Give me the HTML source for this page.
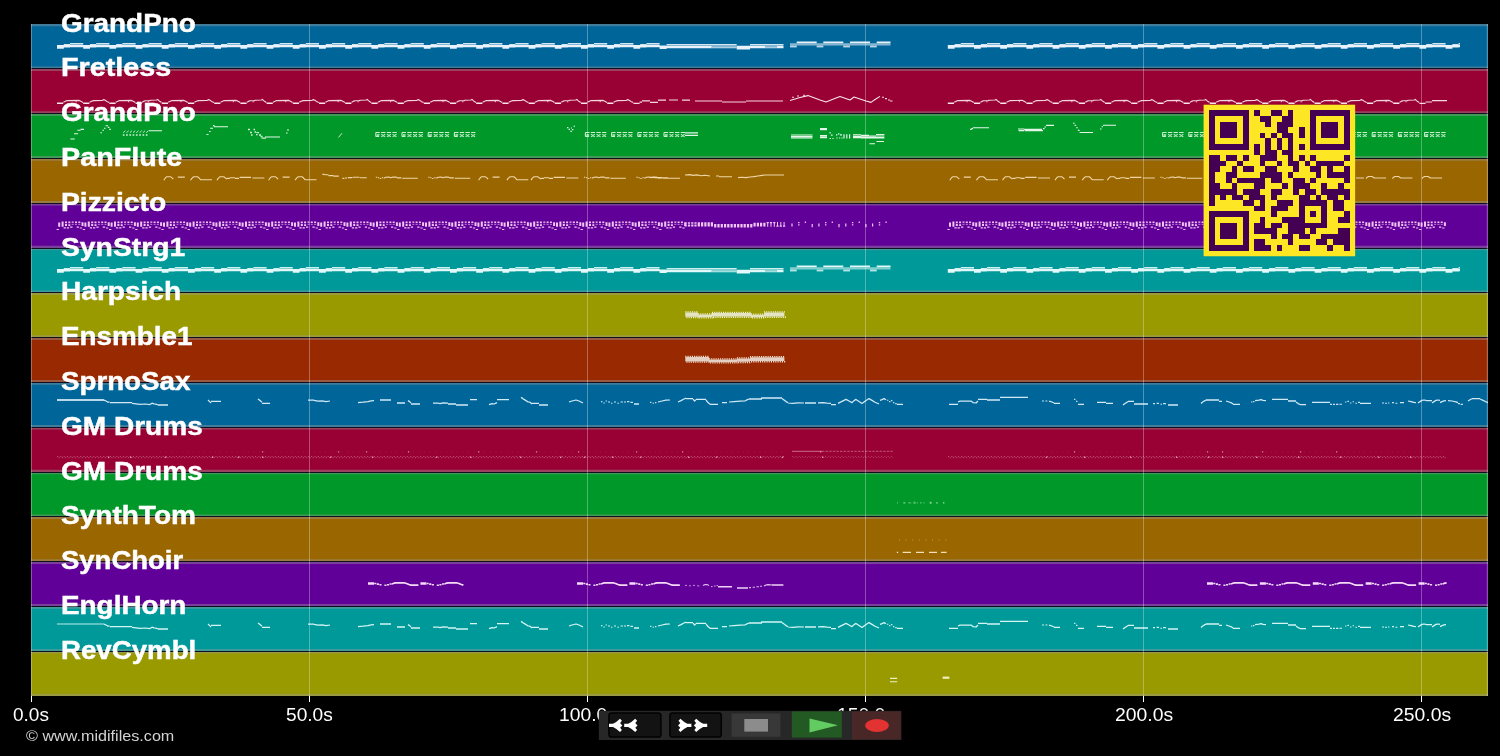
<!DOCTYPE html>
<html><head><meta charset="utf-8"><title>MIDI tracks</title>
<style>
html,body{margin:0;padding:0;background:#000;}
body{width:1500px;height:756px;overflow:hidden;position:relative;font-family:"Liberation Sans",sans-serif;}
#plot{position:absolute;left:0;top:0;}
.lbl{position:absolute;font-weight:bold;-webkit-text-stroke:0.45px #fff;font-size:25.5px;line-height:25.5px;height:25.5px;color:#fff;white-space:nowrap;transform-origin:0 0;will-change:transform;}
.tick{position:absolute;top:705.80px;font-size:18.9px;line-height:18.9px;height:18.9px;color:#fff;white-space:nowrap;transform-origin:0 0;will-change:transform;}
#copy{position:absolute;left:25.57px;top:729.01px;font-size:14.4px;line-height:14.4px;color:#d2d2d2;white-space:nowrap;transform-origin:0 0;transform:scaleX(1.1224);will-change:transform;}
#bar{position:absolute;left:597px;top:709px;}
.btn{position:absolute;top:1.4px;height:25.4px;box-sizing:border-box;}
.btn svg{position:absolute;left:0;top:0;}
</style></head><body>
<svg id="plot" width="1500" height="756" viewBox="0 0 1500 756">
<rect x="31.0" y="24.00" width="1457.0" height="45.30" fill="#00669a"/>
<rect x="31.0" y="68.80" width="1457.0" height="45.30" fill="#990033"/>
<rect x="31.0" y="113.60" width="1457.0" height="45.30" fill="#009929"/>
<rect x="31.0" y="158.40" width="1457.0" height="45.30" fill="#996600"/>
<rect x="31.0" y="203.20" width="1457.0" height="45.30" fill="#610099"/>
<rect x="31.0" y="248.00" width="1457.0" height="45.30" fill="#009999"/>
<rect x="31.0" y="292.80" width="1457.0" height="45.30" fill="#999900"/>
<rect x="31.0" y="337.60" width="1457.0" height="45.30" fill="#992900"/>
<rect x="31.0" y="382.40" width="1457.0" height="45.30" fill="#00669a"/>
<rect x="31.0" y="427.20" width="1457.0" height="45.30" fill="#990033"/>
<rect x="31.0" y="472.00" width="1457.0" height="45.30" fill="#009929"/>
<rect x="31.0" y="516.80" width="1457.0" height="45.30" fill="#996600"/>
<rect x="31.0" y="561.60" width="1457.0" height="45.30" fill="#610099"/>
<rect x="31.0" y="606.40" width="1457.0" height="45.30" fill="#009999"/>
<rect x="31.0" y="651.20" width="1457.0" height="44.80" fill="#999900"/>
<path d="M31.0,24.00h1457.0v2.30h-1457.0zM31.0,66.50h1457.0v4.60h-1457.0zM31.0,111.30h1457.0v4.60h-1457.0zM31.0,156.10h1457.0v4.60h-1457.0zM31.0,200.90h1457.0v4.60h-1457.0zM31.0,245.70h1457.0v4.60h-1457.0zM31.0,290.50h1457.0v4.60h-1457.0zM31.0,335.30h1457.0v4.60h-1457.0zM31.0,380.10h1457.0v4.60h-1457.0zM31.0,424.90h1457.0v4.60h-1457.0zM31.0,469.70h1457.0v4.60h-1457.0zM31.0,514.50h1457.0v4.60h-1457.0zM31.0,559.30h1457.0v4.60h-1457.0zM31.0,604.10h1457.0v4.60h-1457.0zM31.0,648.90h1457.0v4.60h-1457.0zM31.0,693.70h1457.0v2.30h-1457.0z" fill="#9a9a9a" fill-opacity="0.42"/>
<path d="M31.0,68h1457.0v1h-1457.0zM31.0,113h1457.0v1h-1457.0zM31.0,158h1457.0v1h-1457.0zM31.0,203h1457.0v1h-1457.0zM31.0,248h1457.0v1h-1457.0zM31.0,292h1457.0v1h-1457.0zM31.0,337h1457.0v1h-1457.0zM31.0,382h1457.0v1h-1457.0zM31.0,427h1457.0v1h-1457.0zM31.0,472h1457.0v1h-1457.0zM31.0,516h1457.0v1h-1457.0zM31.0,561h1457.0v1h-1457.0zM31.0,606h1457.0v1h-1457.0zM31.0,651h1457.0v1h-1457.0z" fill="#0a0a1c" fill-opacity="0.96"/>
<rect x="1486.8" y="24.0" width="1.2" height="672.0" fill="#fff" fill-opacity="0.3"/>
<rect x="31" y="24.0" width="1" height="672.0" fill="#fff" fill-opacity="0.3"/>
<rect x="31" y="696.0" width="1" height="6" fill="#fff"/>
<rect x="309" y="24.0" width="1" height="672.0" fill="#fff" fill-opacity="0.3"/>
<rect x="309" y="696.0" width="1" height="6" fill="#fff"/>
<rect x="587" y="24.0" width="1" height="672.0" fill="#fff" fill-opacity="0.3"/>
<rect x="587" y="696.0" width="1" height="6" fill="#fff"/>
<rect x="865" y="24.0" width="1" height="672.0" fill="#fff" fill-opacity="0.3"/>
<rect x="865" y="696.0" width="1" height="6" fill="#fff"/>
<rect x="1143" y="24.0" width="1" height="672.0" fill="#fff" fill-opacity="0.3"/>
<rect x="1143" y="696.0" width="1" height="6" fill="#fff"/>
<rect x="1421" y="24.0" width="1" height="672.0" fill="#fff" fill-opacity="0.3"/>
<rect x="1421" y="696.0" width="1" height="6" fill="#fff"/>
<path d="M63.8,44h6.2v1h-6.2zM70,43h13.2v1h-13.2zM90,44h6.2v1h-6.2zM96.2,43h13.2v1h-13.2zM116.2,44h6.2v1h-6.2zM122.4,43h13.2v1h-13.2zM142.4,44h6.2v1h-6.2zM148.6,43h13.2v1h-13.2zM168.6,44h6.2v1h-6.2zM174.8,43h13.2v1h-13.2zM194.8,44h6.2v1h-6.2zM201,43h13.2v1h-13.2zM221,44h6.2v1h-6.2zM227.2,43h13.2v1h-13.2zM247.2,44h6.2v1h-6.2zM253.4,43h13.2v1h-13.2zM273.4,44h6.2v1h-6.2zM279.6,43h13.2v1h-13.2zM299.6,44h6.2v1h-6.2zM305.8,43h13.2v1h-13.2zM325.8,44h6.2v1h-6.2zM332,43h13.2v1h-13.2zM352,44h6.2v1h-6.2zM358.2,43h13.2v1h-13.2zM378.2,44h6.2v1h-6.2zM384.4,43h13.2v1h-13.2zM404.4,44h6.2v1h-6.2zM410.6,43h13.2v1h-13.2zM430.6,44h6.2v1h-6.2zM436.8,43h13.2v1h-13.2zM456.8,44h6.2v1h-6.2zM463,43h13.2v1h-13.2zM483,44h6.2v1h-6.2zM489.2,43h13.2v1h-13.2zM509.2,44h6.2v1h-6.2zM515.4,43h13.2v1h-13.2zM535.4,44h6.2v1h-6.2zM541.6,43h13.2v1h-13.2zM561.6,44h6.2v1h-6.2zM567.8,43h13.2v1h-13.2zM587.8,44h6.2v1h-6.2zM594,43h13.2v1h-13.2zM614,44h6.2v1h-6.2zM620.2,43h13.2v1h-13.2zM640.2,44h6.2v1h-6.2zM646.4,43h13.2v1h-13.2zM666.6,44h45.1v1h-45.1zM711.7,44h25v1h-25zM711.7,47.2h25v1h-25zM750,44h15v1h-15zM765,44h11.7v1h-11.7zM765,47.2h11.7v1h-11.7zM776.7,44h6.8v1h-6.8zM790,46.4h6.7v0.9h-6.7zM816.7,46.4h6.6v0.9h-6.6zM843.3,46.4h6.7v0.9h-6.7zM870,46.4h6.7v0.9h-6.7zM954.6,44h6.2v1h-6.2zM960.8,43h13.2v1h-13.2zM980.8,44h6.2v1h-6.2zM987,43h13.2v1h-13.2zM1007,44h6.2v1h-6.2zM1013.2,43h13.2v1h-13.2zM1033.2,44h6.2v1h-6.2zM1039.4,43h13.2v1h-13.2zM1059.4,44h6.2v1h-6.2zM1065.6,43h13.2v1h-13.2zM1085.6,44h6.2v1h-6.2zM1091.8,43h13.2v1h-13.2zM1111.8,44h6.2v1h-6.2zM1118,43h13.2v1h-13.2zM1138,44h6.2v1h-6.2zM1144.2,43h13.2v1h-13.2zM1164.2,44h6.2v1h-6.2zM1170.4,43h13.2v1h-13.2zM1190.4,44h6.2v1h-6.2zM1196.6,43h13.2v1h-13.2zM1216.6,44h6.2v1h-6.2zM1222.8,43h13.2v1h-13.2zM1242.8,44h6.2v1h-6.2zM1249,43h13.2v1h-13.2zM1269,44h6.2v1h-6.2zM1275.2,43h13.2v1h-13.2zM1295.2,44h6.2v1h-6.2zM1301.4,43h13.2v1h-13.2zM1321.4,44h6.2v1h-6.2zM1327.6,43h13.2v1h-13.2zM1347.6,44h6.2v1h-6.2zM1353.8,43h13.2v1h-13.2zM1373.8,44h6.2v1h-6.2zM1380,43h13.2v1h-13.2zM1400,44h6.2v1h-6.2zM1406.2,43h13.2v1h-13.2zM1426.2,44h6.2v1h-6.2zM1432.4,43h13.2v1h-13.2zM1452.4,44h6.2v1h-6.2zM1458.6,43h1.4v1h-1.4z" fill="#f2f8ff" fill-opacity="0.88"/>
<path d="M70,44h13.2v1h-13.2zM96.2,44h13.2v1h-13.2zM122.4,44h13.2v1h-13.2zM148.6,44h13.2v1h-13.2zM174.8,44h13.2v1h-13.2zM201,44h13.2v1h-13.2zM227.2,44h13.2v1h-13.2zM253.4,44h13.2v1h-13.2zM279.6,44h13.2v1h-13.2zM305.8,44h13.2v1h-13.2zM332,44h13.2v1h-13.2zM358.2,44h13.2v1h-13.2zM384.4,44h13.2v1h-13.2zM410.6,44h13.2v1h-13.2zM436.8,44h13.2v1h-13.2zM463,44h13.2v1h-13.2zM489.2,44h13.2v1h-13.2zM515.4,44h13.2v1h-13.2zM541.6,44h13.2v1h-13.2zM567.8,44h13.2v1h-13.2zM594,44h13.2v1h-13.2zM620.2,44h13.2v1h-13.2zM646.4,44h13.2v1h-13.2zM666.6,45h45.1v1h-45.1zM711.7,45h25v2.2h-25zM750,45h15v1h-15zM765,45h11.7v2.2h-11.7zM776.7,45h6.8v1h-6.8zM790,43.2h6.7v4h-6.7zM816.7,43.2h6.6v4h-6.6zM843.3,43.2h6.7v4h-6.7zM870,43.2h6.7v4h-6.7zM796.7,43h20v2.6h-20zM823.3,43h20v2.6h-20zM850,43h20v2.6h-20zM876.7,43h13.8v2.6h-13.8zM960.8,44h13.2v1h-13.2zM987,44h13.2v1h-13.2zM1013.2,44h13.2v1h-13.2zM1039.4,44h13.2v1h-13.2zM1065.6,44h13.2v1h-13.2zM1091.8,44h13.2v1h-13.2zM1118,44h13.2v1h-13.2zM1144.2,44h13.2v1h-13.2zM1170.4,44h13.2v1h-13.2zM1196.6,44h13.2v1h-13.2zM1222.8,44h13.2v1h-13.2zM1249,44h13.2v1h-13.2zM1275.2,44h13.2v1h-13.2zM1301.4,44h13.2v1h-13.2zM1327.6,44h13.2v1h-13.2zM1353.8,44h13.2v1h-13.2zM1380,44h13.2v1h-13.2zM1406.2,44h13.2v1h-13.2zM1432.4,44h13.2v1h-13.2zM1458.6,44h1.4v1h-1.4z" fill="#f2f8ff" fill-opacity="0.55"/>
<path d="M57,45h6.8v3.7h-6.8zM63.8,45h6.2v2.6h-6.2zM70,45h13.2v2.2h-13.2zM83.2,45h6.8v3.7h-6.8zM90,45h6.2v2.6h-6.2zM96.2,45h13.2v2.2h-13.2zM109.4,45h6.8v3.7h-6.8zM116.2,45h6.2v2.6h-6.2zM122.4,45h13.2v2.2h-13.2zM135.6,45h6.8v3.7h-6.8zM142.4,45h6.2v2.6h-6.2zM148.6,45h13.2v2.2h-13.2zM161.8,45h6.8v3.7h-6.8zM168.6,45h6.2v2.6h-6.2zM174.8,45h13.2v2.2h-13.2zM188,45h6.8v3.7h-6.8zM194.8,45h6.2v2.6h-6.2zM201,45h13.2v2.2h-13.2zM214.2,45h6.8v3.7h-6.8zM221,45h6.2v2.6h-6.2zM227.2,45h13.2v2.2h-13.2zM240.4,45h6.8v3.7h-6.8zM247.2,45h6.2v2.6h-6.2zM253.4,45h13.2v2.2h-13.2zM266.6,45h6.8v3.7h-6.8zM273.4,45h6.2v2.6h-6.2zM279.6,45h13.2v2.2h-13.2zM292.8,45h6.8v3.7h-6.8zM299.6,45h6.2v2.6h-6.2zM305.8,45h13.2v2.2h-13.2zM319,45h6.8v3.7h-6.8zM325.8,45h6.2v2.6h-6.2zM332,45h13.2v2.2h-13.2zM345.2,45h6.8v3.7h-6.8zM352,45h6.2v2.6h-6.2zM358.2,45h13.2v2.2h-13.2zM371.4,45h6.8v3.7h-6.8zM378.2,45h6.2v2.6h-6.2zM384.4,45h13.2v2.2h-13.2zM397.6,45h6.8v3.7h-6.8zM404.4,45h6.2v2.6h-6.2zM410.6,45h13.2v2.2h-13.2zM423.8,45h6.8v3.7h-6.8zM430.6,45h6.2v2.6h-6.2zM436.8,45h13.2v2.2h-13.2zM450,45h6.8v3.7h-6.8zM456.8,45h6.2v2.6h-6.2zM463,45h13.2v2.2h-13.2zM476.2,45h6.8v3.7h-6.8zM483,45h6.2v2.6h-6.2zM489.2,45h13.2v2.2h-13.2zM502.4,45h6.8v3.7h-6.8zM509.2,45h6.2v2.6h-6.2zM515.4,45h13.2v2.2h-13.2zM528.6,45h6.8v3.7h-6.8zM535.4,45h6.2v2.6h-6.2zM541.6,45h13.2v2.2h-13.2zM554.8,45h6.8v3.7h-6.8zM561.6,45h6.2v2.6h-6.2zM567.8,45h13.2v2.2h-13.2zM581,45h6.8v3.7h-6.8zM587.8,45h6.2v2.6h-6.2zM594,45h13.2v2.2h-13.2zM607.2,45h6.8v3.7h-6.8zM614,45h6.2v2.6h-6.2zM620.2,45h13.2v2.2h-13.2zM633.4,45h6.8v3.7h-6.8zM640.2,45h6.2v2.6h-6.2zM646.4,45h13.2v2.2h-13.2zM659.6,45.4h7v3.7h-7zM666.6,46h45.1v2.2h-45.1zM736.7,45.8h13.3v3.7h-13.3zM750,46h15v2.2h-15zM776.7,46h6.8v2.2h-6.8zM796.7,41.6h20v1.4h-20zM823.3,41.6h20v1.4h-20zM850,41.6h20v1.4h-20zM876.7,41.6h13.8v1.4h-13.8zM947.8,45h6.8v3.7h-6.8zM954.6,45h6.2v2.6h-6.2zM960.8,45h13.2v2.2h-13.2zM974,45h6.8v3.7h-6.8zM980.8,45h6.2v2.6h-6.2zM987,45h13.2v2.2h-13.2zM1000.2,45h6.8v3.7h-6.8zM1007,45h6.2v2.6h-6.2zM1013.2,45h13.2v2.2h-13.2zM1026.4,45h6.8v3.7h-6.8zM1033.2,45h6.2v2.6h-6.2zM1039.4,45h13.2v2.2h-13.2zM1052.6,45h6.8v3.7h-6.8zM1059.4,45h6.2v2.6h-6.2zM1065.6,45h13.2v2.2h-13.2zM1078.8,45h6.8v3.7h-6.8zM1085.6,45h6.2v2.6h-6.2zM1091.8,45h13.2v2.2h-13.2zM1105,45h6.8v3.7h-6.8zM1111.8,45h6.2v2.6h-6.2zM1118,45h13.2v2.2h-13.2zM1131.2,45h6.8v3.7h-6.8zM1138,45h6.2v2.6h-6.2zM1144.2,45h13.2v2.2h-13.2zM1157.4,45h6.8v3.7h-6.8zM1164.2,45h6.2v2.6h-6.2zM1170.4,45h13.2v2.2h-13.2zM1183.6,45h6.8v3.7h-6.8zM1190.4,45h6.2v2.6h-6.2zM1196.6,45h13.2v2.2h-13.2zM1209.8,45h6.8v3.7h-6.8zM1216.6,45h6.2v2.6h-6.2zM1222.8,45h13.2v2.2h-13.2zM1236,45h6.8v3.7h-6.8zM1242.8,45h6.2v2.6h-6.2zM1249,45h13.2v2.2h-13.2zM1262.2,45h6.8v3.7h-6.8zM1269,45h6.2v2.6h-6.2zM1275.2,45h13.2v2.2h-13.2zM1288.4,45h6.8v3.7h-6.8zM1295.2,45h6.2v2.6h-6.2zM1301.4,45h13.2v2.2h-13.2zM1314.6,45h6.8v3.7h-6.8zM1321.4,45h6.2v2.6h-6.2zM1327.6,45h13.2v2.2h-13.2zM1340.8,45h6.8v3.7h-6.8zM1347.6,45h6.2v2.6h-6.2zM1353.8,45h13.2v2.2h-13.2zM1367,45h6.8v3.7h-6.8zM1373.8,45h6.2v2.6h-6.2zM1380,45h13.2v2.2h-13.2zM1393.2,45h6.8v3.7h-6.8zM1400,45h6.2v2.6h-6.2zM1406.2,45h13.2v2.2h-13.2zM1419.4,45h6.8v3.7h-6.8zM1426.2,45h6.2v2.6h-6.2zM1432.4,45h13.2v2.2h-13.2zM1445.6,45h6.8v3.7h-6.8zM1452.4,45h6.2v2.6h-6.2zM1458.6,45h1.4v2.2h-1.4z" fill="#f2f8ff" fill-opacity="0.96"/>
<path d="M63.8,268h6.2v1h-6.2zM70,267h13.2v1h-13.2zM90,268h6.2v1h-6.2zM96.2,267h13.2v1h-13.2zM116.2,268h6.2v1h-6.2zM122.4,267h13.2v1h-13.2zM142.4,268h6.2v1h-6.2zM148.6,267h13.2v1h-13.2zM168.6,268h6.2v1h-6.2zM174.8,267h13.2v1h-13.2zM194.8,268h6.2v1h-6.2zM201,267h13.2v1h-13.2zM221,268h6.2v1h-6.2zM227.2,267h13.2v1h-13.2zM247.2,268h6.2v1h-6.2zM253.4,267h13.2v1h-13.2zM273.4,268h6.2v1h-6.2zM279.6,267h13.2v1h-13.2zM299.6,268h6.2v1h-6.2zM305.8,267h13.2v1h-13.2zM325.8,268h6.2v1h-6.2zM332,267h13.2v1h-13.2zM352,268h6.2v1h-6.2zM358.2,267h13.2v1h-13.2zM378.2,268h6.2v1h-6.2zM384.4,267h13.2v1h-13.2zM404.4,268h6.2v1h-6.2zM410.6,267h13.2v1h-13.2zM430.6,268h6.2v1h-6.2zM436.8,267h13.2v1h-13.2zM456.8,268h6.2v1h-6.2zM463,267h13.2v1h-13.2zM483,268h6.2v1h-6.2zM489.2,267h13.2v1h-13.2zM509.2,268h6.2v1h-6.2zM515.4,267h13.2v1h-13.2zM535.4,268h6.2v1h-6.2zM541.6,267h13.2v1h-13.2zM561.6,268h6.2v1h-6.2zM567.8,267h13.2v1h-13.2zM587.8,268h6.2v1h-6.2zM594,267h13.2v1h-13.2zM614,268h6.2v1h-6.2zM620.2,267h13.2v1h-13.2zM640.2,268h6.2v1h-6.2zM646.4,267h13.2v1h-13.2zM666.6,268h45.1v1h-45.1zM711.7,268h25v1h-25zM711.7,271.2h25v1h-25zM750,268h15v1h-15zM765,268h11.7v1h-11.7zM765,271.2h11.7v1h-11.7zM776.7,268h6.8v1h-6.8zM790,270.4h6.7v0.9h-6.7zM816.7,270.4h6.6v0.9h-6.6zM843.3,270.4h6.7v0.9h-6.7zM870,270.4h6.7v0.9h-6.7zM954.6,268h6.2v1h-6.2zM960.8,267h13.2v1h-13.2zM980.8,268h6.2v1h-6.2zM987,267h13.2v1h-13.2zM1007,268h6.2v1h-6.2zM1013.2,267h13.2v1h-13.2zM1033.2,268h6.2v1h-6.2zM1039.4,267h13.2v1h-13.2zM1059.4,268h6.2v1h-6.2zM1065.6,267h13.2v1h-13.2zM1085.6,268h6.2v1h-6.2zM1091.8,267h13.2v1h-13.2zM1111.8,268h6.2v1h-6.2zM1118,267h13.2v1h-13.2zM1138,268h6.2v1h-6.2zM1144.2,267h13.2v1h-13.2zM1164.2,268h6.2v1h-6.2zM1170.4,267h13.2v1h-13.2zM1190.4,268h6.2v1h-6.2zM1196.6,267h13.2v1h-13.2zM1216.6,268h6.2v1h-6.2zM1222.8,267h13.2v1h-13.2zM1242.8,268h6.2v1h-6.2zM1249,267h13.2v1h-13.2zM1269,268h6.2v1h-6.2zM1275.2,267h13.2v1h-13.2zM1295.2,268h6.2v1h-6.2zM1301.4,267h13.2v1h-13.2zM1321.4,268h6.2v1h-6.2zM1327.6,267h13.2v1h-13.2zM1347.6,268h6.2v1h-6.2zM1353.8,267h13.2v1h-13.2zM1373.8,268h6.2v1h-6.2zM1380,267h13.2v1h-13.2zM1400,268h6.2v1h-6.2zM1406.2,267h13.2v1h-13.2zM1426.2,268h6.2v1h-6.2zM1432.4,267h13.2v1h-13.2zM1452.4,268h6.2v1h-6.2zM1458.6,267h1.4v1h-1.4z" fill="#ecfcfc" fill-opacity="0.88"/>
<path d="M70,268h13.2v1h-13.2zM96.2,268h13.2v1h-13.2zM122.4,268h13.2v1h-13.2zM148.6,268h13.2v1h-13.2zM174.8,268h13.2v1h-13.2zM201,268h13.2v1h-13.2zM227.2,268h13.2v1h-13.2zM253.4,268h13.2v1h-13.2zM279.6,268h13.2v1h-13.2zM305.8,268h13.2v1h-13.2zM332,268h13.2v1h-13.2zM358.2,268h13.2v1h-13.2zM384.4,268h13.2v1h-13.2zM410.6,268h13.2v1h-13.2zM436.8,268h13.2v1h-13.2zM463,268h13.2v1h-13.2zM489.2,268h13.2v1h-13.2zM515.4,268h13.2v1h-13.2zM541.6,268h13.2v1h-13.2zM567.8,268h13.2v1h-13.2zM594,268h13.2v1h-13.2zM620.2,268h13.2v1h-13.2zM646.4,268h13.2v1h-13.2zM666.6,269h45.1v1h-45.1zM711.7,269h25v2.2h-25zM750,269h15v1h-15zM765,269h11.7v2.2h-11.7zM776.7,269h6.8v1h-6.8zM790,267.2h6.7v4h-6.7zM816.7,267.2h6.6v4h-6.6zM843.3,267.2h6.7v4h-6.7zM870,267.2h6.7v4h-6.7zM796.7,267h20v2.6h-20zM823.3,267h20v2.6h-20zM850,267h20v2.6h-20zM876.7,267h13.8v2.6h-13.8zM960.8,268h13.2v1h-13.2zM987,268h13.2v1h-13.2zM1013.2,268h13.2v1h-13.2zM1039.4,268h13.2v1h-13.2zM1065.6,268h13.2v1h-13.2zM1091.8,268h13.2v1h-13.2zM1118,268h13.2v1h-13.2zM1144.2,268h13.2v1h-13.2zM1170.4,268h13.2v1h-13.2zM1196.6,268h13.2v1h-13.2zM1222.8,268h13.2v1h-13.2zM1249,268h13.2v1h-13.2zM1275.2,268h13.2v1h-13.2zM1301.4,268h13.2v1h-13.2zM1327.6,268h13.2v1h-13.2zM1353.8,268h13.2v1h-13.2zM1380,268h13.2v1h-13.2zM1406.2,268h13.2v1h-13.2zM1432.4,268h13.2v1h-13.2zM1458.6,268h1.4v1h-1.4z" fill="#ecfcfc" fill-opacity="0.55"/>
<path d="M57,269h6.8v3.7h-6.8zM63.8,269h6.2v2.6h-6.2zM70,269h13.2v2.2h-13.2zM83.2,269h6.8v3.7h-6.8zM90,269h6.2v2.6h-6.2zM96.2,269h13.2v2.2h-13.2zM109.4,269h6.8v3.7h-6.8zM116.2,269h6.2v2.6h-6.2zM122.4,269h13.2v2.2h-13.2zM135.6,269h6.8v3.7h-6.8zM142.4,269h6.2v2.6h-6.2zM148.6,269h13.2v2.2h-13.2zM161.8,269h6.8v3.7h-6.8zM168.6,269h6.2v2.6h-6.2zM174.8,269h13.2v2.2h-13.2zM188,269h6.8v3.7h-6.8zM194.8,269h6.2v2.6h-6.2zM201,269h13.2v2.2h-13.2zM214.2,269h6.8v3.7h-6.8zM221,269h6.2v2.6h-6.2zM227.2,269h13.2v2.2h-13.2zM240.4,269h6.8v3.7h-6.8zM247.2,269h6.2v2.6h-6.2zM253.4,269h13.2v2.2h-13.2zM266.6,269h6.8v3.7h-6.8zM273.4,269h6.2v2.6h-6.2zM279.6,269h13.2v2.2h-13.2zM292.8,269h6.8v3.7h-6.8zM299.6,269h6.2v2.6h-6.2zM305.8,269h13.2v2.2h-13.2zM319,269h6.8v3.7h-6.8zM325.8,269h6.2v2.6h-6.2zM332,269h13.2v2.2h-13.2zM345.2,269h6.8v3.7h-6.8zM352,269h6.2v2.6h-6.2zM358.2,269h13.2v2.2h-13.2zM371.4,269h6.8v3.7h-6.8zM378.2,269h6.2v2.6h-6.2zM384.4,269h13.2v2.2h-13.2zM397.6,269h6.8v3.7h-6.8zM404.4,269h6.2v2.6h-6.2zM410.6,269h13.2v2.2h-13.2zM423.8,269h6.8v3.7h-6.8zM430.6,269h6.2v2.6h-6.2zM436.8,269h13.2v2.2h-13.2zM450,269h6.8v3.7h-6.8zM456.8,269h6.2v2.6h-6.2zM463,269h13.2v2.2h-13.2zM476.2,269h6.8v3.7h-6.8zM483,269h6.2v2.6h-6.2zM489.2,269h13.2v2.2h-13.2zM502.4,269h6.8v3.7h-6.8zM509.2,269h6.2v2.6h-6.2zM515.4,269h13.2v2.2h-13.2zM528.6,269h6.8v3.7h-6.8zM535.4,269h6.2v2.6h-6.2zM541.6,269h13.2v2.2h-13.2zM554.8,269h6.8v3.7h-6.8zM561.6,269h6.2v2.6h-6.2zM567.8,269h13.2v2.2h-13.2zM581,269h6.8v3.7h-6.8zM587.8,269h6.2v2.6h-6.2zM594,269h13.2v2.2h-13.2zM607.2,269h6.8v3.7h-6.8zM614,269h6.2v2.6h-6.2zM620.2,269h13.2v2.2h-13.2zM633.4,269h6.8v3.7h-6.8zM640.2,269h6.2v2.6h-6.2zM646.4,269h13.2v2.2h-13.2zM659.6,269.4h7v3.7h-7zM666.6,270h45.1v2.2h-45.1zM736.7,269.8h13.3v3.7h-13.3zM750,270h15v2.2h-15zM776.7,270h6.8v2.2h-6.8zM796.7,265.6h20v1.4h-20zM823.3,265.6h20v1.4h-20zM850,265.6h20v1.4h-20zM876.7,265.6h13.8v1.4h-13.8zM947.8,269h6.8v3.7h-6.8zM954.6,269h6.2v2.6h-6.2zM960.8,269h13.2v2.2h-13.2zM974,269h6.8v3.7h-6.8zM980.8,269h6.2v2.6h-6.2zM987,269h13.2v2.2h-13.2zM1000.2,269h6.8v3.7h-6.8zM1007,269h6.2v2.6h-6.2zM1013.2,269h13.2v2.2h-13.2zM1026.4,269h6.8v3.7h-6.8zM1033.2,269h6.2v2.6h-6.2zM1039.4,269h13.2v2.2h-13.2zM1052.6,269h6.8v3.7h-6.8zM1059.4,269h6.2v2.6h-6.2zM1065.6,269h13.2v2.2h-13.2zM1078.8,269h6.8v3.7h-6.8zM1085.6,269h6.2v2.6h-6.2zM1091.8,269h13.2v2.2h-13.2zM1105,269h6.8v3.7h-6.8zM1111.8,269h6.2v2.6h-6.2zM1118,269h13.2v2.2h-13.2zM1131.2,269h6.8v3.7h-6.8zM1138,269h6.2v2.6h-6.2zM1144.2,269h13.2v2.2h-13.2zM1157.4,269h6.8v3.7h-6.8zM1164.2,269h6.2v2.6h-6.2zM1170.4,269h13.2v2.2h-13.2zM1183.6,269h6.8v3.7h-6.8zM1190.4,269h6.2v2.6h-6.2zM1196.6,269h13.2v2.2h-13.2zM1209.8,269h6.8v3.7h-6.8zM1216.6,269h6.2v2.6h-6.2zM1222.8,269h13.2v2.2h-13.2zM1236,269h6.8v3.7h-6.8zM1242.8,269h6.2v2.6h-6.2zM1249,269h13.2v2.2h-13.2zM1262.2,269h6.8v3.7h-6.8zM1269,269h6.2v2.6h-6.2zM1275.2,269h13.2v2.2h-13.2zM1288.4,269h6.8v3.7h-6.8zM1295.2,269h6.2v2.6h-6.2zM1301.4,269h13.2v2.2h-13.2zM1314.6,269h6.8v3.7h-6.8zM1321.4,269h6.2v2.6h-6.2zM1327.6,269h13.2v2.2h-13.2zM1340.8,269h6.8v3.7h-6.8zM1347.6,269h6.2v2.6h-6.2zM1353.8,269h13.2v2.2h-13.2zM1367,269h6.8v3.7h-6.8zM1373.8,269h6.2v2.6h-6.2zM1380,269h13.2v2.2h-13.2zM1393.2,269h6.8v3.7h-6.8zM1400,269h6.2v2.6h-6.2zM1406.2,269h13.2v2.2h-13.2zM1419.4,269h6.8v3.7h-6.8zM1426.2,269h6.2v2.6h-6.2zM1432.4,269h13.2v2.2h-13.2zM1445.6,269h6.8v3.7h-6.8zM1452.4,269h6.2v2.6h-6.2zM1458.6,269h1.4v2.2h-1.4z" fill="#ecfcfc" fill-opacity="0.96"/>
<path d="M633.4,103.3H639.6M639.6,102.2H642M642,100.8H650M650,102.4H658M658,100.2H666M669,100H678M682,100.2H690M695,101H722M722,102H746M746,101H783M1419.4,103.3H1425.6M1425.6,102H1432M1432,100.6H1447" stroke="#fff0f4" stroke-width="1.2" stroke-opacity="0.9" fill="none"/>
<path d="M57,103.2H63.2M83.2,103.2H89.4M109.4,103.2H115.6M135.6,103.2H141.8M161.8,103.2H168M188,103.2H194.2M214.2,103.2H220.4M240.4,103.2H246.6M266.6,103.2H272.8M292.8,103.2H299M319,103.2H325.2M345.2,103.2H351.4M371.4,103.2H377.6M397.6,103.2H403.8M423.8,103.2H430M450,103.2H456.2M476.2,103.2H482.4M502.4,103.2H508.6M528.6,103.2H534.8M554.8,103.2H561M581,103.2H587.2M607.2,103.2H613.4M947.8,103.2H954M974,103.2H980.2M1000.2,103.2H1006.4M1026.4,103.2H1032.6M1052.6,103.2H1058.8M1078.8,103.2H1085M1105,103.2H1111.2M1131.2,103.2H1137.4M1157.4,103.2H1163.6M1183.6,103.2H1189.8M1209.8,103.2H1216M1236,103.2H1242.2M1262.2,103.2H1268.4M1288.4,103.2H1294.6M1314.6,103.2H1320.8M1340.8,103.2H1347M1367,103.2H1373.2M1393.2,103.2H1399.4" stroke="#fff0f4" stroke-width="1.4" stroke-opacity="0.95" fill="none"/>
<path d="M63.4,102.3L65,101.5L67,100.6L79.2,100.4L80.8,101.3L83,102.5M89.6,102.3L91.6,101.3L93.6,100.6L102.2,100.5L103.8,99.6L105.2,100.2L106.8,101.4L109.2,102.5M115.8,102.3L117.4,101.5L119.4,100.6L131.6,100.4L133.2,101.3L135.4,102.5M142,102.2L143.6,101.4L145.2,100.7L149.6,100.6L150.6,100.2L156.6,100L157.6,99.4L158.6,100.4L160,101.6L161.6,102.5M168.2,102.3L169.8,101.5L171.8,100.6L184,100.4L185.6,101.3L187.8,102.5M194.4,102.3L196.4,101.3L198.4,100.6L207,100.5L208.6,99.6L210,100.2L211.6,101.4L214,102.5M220.6,102.3L222.2,101.5L224.2,100.6L236.4,100.4L238,101.3L240.2,102.5M246.8,102.2L248.4,101.4L250,100.7L254.4,100.6L255.4,100.2L261.4,100L262.4,99.4L263.4,100.4L264.8,101.6L266.4,102.5M273,102.3L274.6,101.5L276.6,100.6L288.8,100.4L290.4,101.3L292.6,102.5M299.2,102.3L301.2,101.3L303.2,100.6L311.8,100.5L313.4,99.6L314.8,100.2L316.4,101.4L318.8,102.5M325.4,102.3L327,101.5L329,100.6L341.2,100.4L342.8,101.3L345,102.5M351.6,102.2L353.2,101.4L354.8,100.7L359.2,100.6L360.2,100.2L366.2,100L367.2,99.4L368.2,100.4L369.6,101.6L371.2,102.5M377.8,102.3L379.4,101.5L381.4,100.6L393.6,100.4L395.2,101.3L397.4,102.5M404,102.3L406,101.3L408,100.6L416.6,100.5L418.2,99.6L419.6,100.2L421.2,101.4L423.6,102.5M430.2,102.3L431.8,101.5L433.8,100.6L446,100.4L447.6,101.3L449.8,102.5M456.4,102.2L458,101.4L459.6,100.7L464,100.6L465,100.2L471,100L472,99.4L473,100.4L474.4,101.6L476,102.5M482.6,102.3L484.2,101.5L486.2,100.6L498.4,100.4L500,101.3L502.2,102.5M508.8,102.3L510.8,101.3L512.8,100.6L521.4,100.5L523,99.6L524.4,100.2L526,101.4L528.4,102.5M535,102.3L536.6,101.5L538.6,100.6L550.8,100.4L552.4,101.3L554.6,102.5M561.2,102.2L562.8,101.4L564.4,100.7L568.8,100.6L569.8,100.2L575.8,100L576.8,99.4L577.8,100.4L579.2,101.6L580.8,102.5M587.4,102.3L589,101.5L591,100.6L603.2,100.4L604.8,101.3L607,102.5M613.6,102.3L615.6,101.3L617.6,100.6L626.2,100.5L627.8,99.6L629.2,100.2L630.8,101.4L633.2,102.5M954.2,102.3L955.8,101.5L957.8,100.6L970,100.4L971.6,101.3L973.8,102.5M980.4,102.2L982,101.4L983.6,100.7L988,100.6L989,100.2L995,100L996,99.4L997,100.4L998.4,101.6L1000,102.5M1006.6,102.3L1008.2,101.5L1010.2,100.6L1022.4,100.4L1024,101.3L1026.2,102.5M1032.8,102.3L1034.8,101.3L1036.8,100.6L1045.4,100.5L1047,99.6L1048.4,100.2L1050,101.4L1052.4,102.5M1059,102.3L1060.6,101.5L1062.6,100.6L1074.8,100.4L1076.4,101.3L1078.6,102.5M1085.2,102.2L1086.8,101.4L1088.4,100.7L1092.8,100.6L1093.8,100.2L1099.8,100L1100.8,99.4L1101.8,100.4L1103.2,101.6L1104.8,102.5M1111.4,102.3L1113,101.5L1115,100.6L1127.2,100.4L1128.8,101.3L1131,102.5M1137.6,102.3L1139.6,101.3L1141.6,100.6L1150.2,100.5L1151.8,99.6L1153.2,100.2L1154.8,101.4L1157.2,102.5M1163.8,102.3L1165.4,101.5L1167.4,100.6L1179.6,100.4L1181.2,101.3L1183.4,102.5M1190,102.2L1191.6,101.4L1193.2,100.7L1197.6,100.6L1198.6,100.2L1204.6,100L1205.6,99.4L1206.6,100.4L1208,101.6L1209.6,102.5M1216.2,102.3L1217.8,101.5L1219.8,100.6L1232,100.4L1233.6,101.3L1235.8,102.5M1242.4,102.3L1244.4,101.3L1246.4,100.6L1255,100.5L1256.6,99.6L1258,100.2L1259.6,101.4L1262,102.5M1268.6,102.3L1270.2,101.5L1272.2,100.6L1284.4,100.4L1286,101.3L1288.2,102.5M1294.8,102.2L1296.4,101.4L1298,100.7L1302.4,100.6L1303.4,100.2L1309.4,100L1310.4,99.4L1311.4,100.4L1312.8,101.6L1314.4,102.5M1321,102.3L1322.6,101.5L1324.6,100.6L1336.8,100.4L1338.4,101.3L1340.6,102.5M1347.2,102.3L1349.2,101.3L1351.2,100.6L1359.8,100.5L1361.4,99.6L1362.8,100.2L1364.4,101.4L1366.8,102.5M1373.4,102.3L1375,101.5L1377,100.6L1389.2,100.4L1390.8,101.3L1393,102.5M1399.6,102.2L1401.2,101.4L1402.8,100.7L1407.2,100.6L1408.2,100.2L1414.2,100L1415.2,99.4L1416.2,100.4L1417.6,101.6L1419.2,102.5" stroke="#fff0f4" stroke-width="1.15" stroke-opacity="0.88" fill="none" stroke-linejoin="round"/>
<path d="M75.6,101.7H76.8M128,101.7H129.2M147.8,101.8H149M180.4,101.7H181.6M232.8,101.7H234M252.6,101.8H253.8M285.2,101.7H286.4M337.6,101.7H338.8M357.4,101.8H358.6M390,101.7H391.2M442.4,101.7H443.6M462.2,101.8H463.4M494.8,101.7H496M547.2,101.7H548.4M567,101.8H568.2M599.6,101.7H600.8M966.4,101.7H967.6M986.2,101.8H987.4M1018.8,101.7H1020M1071.2,101.7H1072.4M1091,101.8H1092.2M1123.6,101.7H1124.8M1176,101.7H1177.2M1195.8,101.8H1197M1228.4,101.7H1229.6M1280.8,101.7H1282M1300.6,101.8H1301.8M1333.2,101.7H1334.4M1385.6,101.7H1386.8M1405.4,101.8H1406.6" stroke="#fff0f4" stroke-width="1.0" stroke-opacity="0.8" fill="none"/>
<path d="M790,100.5L795,99L800,97.5L808,95.6L814,97.8L820,100L826,102L831,100L836,98L840,96.4L845,98.2L850,100L854,97L860,99L866,101L871,102.4L875,99.5L880,96.4" stroke="#fff" stroke-width="1.1" stroke-opacity="0.9" fill="none" stroke-linejoin="round"/>
<path d="M792,97.2H794M797,96H799M803,95.2H805M882,97.2H884M885,98.6H887M888,100H890M890,101H892.5" stroke="#fff" stroke-width="1.1" stroke-opacity="0.85" fill="none"/>
<path d="M70.4,139H74.8M74,133.8H78M77.4,130.2H80.6M80.6,129.4H84M100.4,132.8H102M102.4,130.2H104M104,128.2H105.6M105.6,125.7H108M107.8,127.4H109.4M109.2,129.4H110.8M148.8,130.8H162M206.5,134.5H208.5M209,131.5H210.6M210.2,128.3H213M213,125.6H214.6M214,126.8H228M265,137H280M287,130H289M286,133H287.6M567,127.6H568.4M568.6,129.4H570M570.4,131.4H571.8M572,129.6H573.4M573.6,126.2H575M571,128H572M970,129.4H971.6M971.4,128.6H973M972.8,127.8H989M1018,129H1020M1018.6,130.6H1024.4M1020,129H1024M1024,129.4H1042M1025,130.6H1043M1043,128.6H1044.6M1044.4,127H1046M1046,125.4H1054M1073,123.2H1074.6M1074.6,125.4H1076.2M1076.2,127.8H1077.8M1077.8,130.4H1079.6M1079.6,132.5H1093M1100,129H1101.6M1101.6,126.8H1103M1103,125.2H1116" stroke="#fff" stroke-width="1.1" stroke-opacity="0.9" fill="none"/>
<path d="M123.2,132.7L125.4,130.7M126.5,132.7L128.7,130.7M129.8,132.7L132,130.7M133,132.7L135.2,130.7M136.3,132.7L138.5,130.7M139.6,132.7L141.8,130.7M142.9,132.7L145.1,130.7M146.2,132.7L148.4,130.7M338.5,137.4L342,133.2" stroke="#f0fff0" stroke-width="1.0" stroke-opacity="0.8" fill="none" stroke-linejoin="round"/>
<path d="M122.8,135H124.5M126.1,135H127.8M129.4,135H131.1M132.6,135H134.3M135.9,135H137.6M139.2,135H140.9M142.5,135H144.2M145.8,135H147.5M248,129.5H250M250,132.5H252M251,135H252.6M253.5,129.5H255.1M254.5,132H256.1M256.5,132.6H259M256,134.6H257.6M259,135H261M260.5,136.5H262.5M261.5,138.2H266" stroke="#f0fff0" stroke-width="1.3" stroke-opacity="0.85" fill="none"/>
<path d="M375.5,132.5H379.8M375.8,136.3H379.2M376.8,134.8H379.4M381.1,132.5H385.5M386.8,132.5H391.1M392.4,132.5H396.8M401.7,132.5H406M402,136.3H405.4M403,134.8H405.6M407.3,132.5H411.7M413,132.5H417.3M418.6,132.5H423M427.9,132.5H432.2M428.2,136.3H431.6M429.2,134.8H431.9M433.6,132.5H437.9M439.2,132.5H443.6M444.9,132.5H449.2M454.1,132.5H458.4M454.4,136.3H457.8M455.4,134.8H458.1M459.8,132.5H464.1M465.4,132.5H469.8M471.1,132.5H475.4M585.1,132.5H589.5M585.4,136.3H588.9M586.4,134.8H589.1M590.8,132.5H595.1M596.4,132.5H600.8M602.1,132.5H606.4M611.3,132.5H615.6M611.6,136.3H615M612.6,134.8H615.2M616.9,132.5H621.3M622.6,132.5H626.9M628.2,132.5H632.6M637.5,132.5H641.9M637.8,136.3H641.2M638.8,134.8H641.5M643.1,132.5H647.5M648.8,132.5H653.1M654.5,132.5H658.8M663.7,132.5H668.1M664,136.3H667.5M665,134.8H667.7M669.4,132.5H673.7M675,132.5H679.4M680.7,132.5H685M1162.3,132.5H1166.6M1162.6,136.3H1166M1163.6,134.8H1166.2M1167.9,132.5H1172.3M1173.6,132.5H1177.9M1179.2,132.5H1183.6M1188.5,132.5H1192.8M1188.8,136.3H1192.2M1189.8,134.8H1192.4M1194.1,132.5H1198.5M1199.8,132.5H1204.1M1205.4,132.5H1209.8M1214.7,132.5H1219M1215,136.3H1218.5M1216,134.8H1218.6M1220.3,132.5H1224.7M1226,132.5H1230.3M1231.6,132.5H1236M1240.9,132.5H1245.2M1241.2,136.3H1244.7M1242.2,134.8H1244.8M1246.5,132.5H1250.9M1252.2,132.5H1256.5M1257.8,132.5H1262.2M1267.1,132.5H1271.5M1267.4,136.3H1270.9M1268.4,134.8H1271M1272.8,132.5H1277.1M1278.4,132.5H1282.8M1284,132.5H1288.4M1293.3,132.5H1297.6M1293.6,136.3H1297M1294.6,134.8H1297.2M1298.9,132.5H1303.3M1304.6,132.5H1308.9M1310.2,132.5H1314.6M1319.5,132.5H1323.8M1319.8,136.3H1323.2M1320.8,134.8H1323.4M1325.1,132.5H1329.5M1330.8,132.5H1335.1M1336.4,132.5H1340.8M1345.7,132.5H1350M1346,136.3H1349.5M1347,134.8H1349.6M1351.3,132.5H1355.7M1357,132.5H1361.3M1362.6,132.5H1367M1371.9,132.5H1376.2M1372.2,136.3H1375.7M1373.2,134.8H1375.8M1377.5,132.5H1381.9M1383.2,132.5H1387.5M1388.8,132.5H1393.2M1398.1,132.5H1402.5M1398.4,136.3H1401.9M1399.4,134.8H1402M1403.8,132.5H1408.1M1409.4,132.5H1413.8M1415,132.5H1419.4M1424.3,132.5H1428.6M1424.6,136.3H1428M1425.6,134.8H1428.2M1429.9,132.5H1434.3M1435.6,132.5H1439.9M1441.2,132.5H1445.6" stroke="#f0fff0" stroke-width="1.2" stroke-opacity="0.85" fill="none"/>
<path d="M375.8,132.9L375.8,136.4M381.3,134.2L385.2,136.9M381.3,136.9L385.2,134.2M387,134.2L390.8,136.9M387,136.9L390.8,134.2M392.6,134.2L396.5,136.9M392.6,136.9L396.5,134.2M402,132.9L402,136.4M407.5,134.2L411.4,136.9M407.5,136.9L411.4,134.2M413.2,134.2L417,136.9M413.2,136.9L417,134.2M418.8,134.2L422.7,136.9M418.8,136.9L422.7,134.2M428.2,132.9L428.2,136.4M433.8,134.2L437.6,136.9M433.8,136.9L437.6,134.2M439.4,134.2L443.2,136.9M439.4,136.9L443.2,134.2M445.1,134.2L448.9,136.9M445.1,136.9L448.9,134.2M454.4,132.9L454.4,136.4M459.9,134.2L463.8,136.9M459.9,136.9L463.8,134.2M465.6,134.2L469.4,136.9M465.6,136.9L469.4,134.2M471.2,134.2L475.1,136.9M471.2,136.9L475.1,134.2M585.4,132.9L585.4,136.4M591,134.2L594.8,136.9M591,136.9L594.8,134.2M596.6,134.2L600.5,136.9M596.6,136.9L600.5,134.2M602.3,134.2L606.1,136.9M602.3,136.9L606.1,134.2M611.6,132.9L611.6,136.4M617.1,134.2L621,136.9M617.1,136.9L621,134.2M622.8,134.2L626.6,136.9M622.8,136.9L626.6,134.2M628.5,134.2L632.3,136.9M628.5,136.9L632.3,134.2M637.8,132.9L637.8,136.4M643.4,134.2L647.2,136.9M643.4,136.9L647.2,134.2M649,134.2L652.9,136.9M649,136.9L652.9,134.2M654.7,134.2L658.5,136.9M654.7,136.9L658.5,134.2M664,132.9L664,136.4M669.6,134.2L673.4,136.9M669.6,136.9L673.4,134.2M675.2,134.2L679.1,136.9M675.2,136.9L679.1,134.2M680.9,134.2L684.7,136.9M680.9,136.9L684.7,134.2M1162.6,132.9L1162.6,136.4M1168.1,134.2L1172,136.9M1168.1,136.9L1172,134.2M1173.8,134.2L1177.6,136.9M1173.8,136.9L1177.6,134.2M1179.4,134.2L1183.3,136.9M1179.4,136.9L1183.3,134.2M1188.8,132.9L1188.8,136.4M1194.3,134.2L1198.2,136.9M1194.3,136.9L1198.2,134.2M1200,134.2L1203.8,136.9M1200,136.9L1203.8,134.2M1205.6,134.2L1209.5,136.9M1205.6,136.9L1209.5,134.2M1215,132.9L1215,136.4M1220.5,134.2L1224.4,136.9M1220.5,136.9L1224.4,134.2M1226.2,134.2L1230,136.9M1226.2,136.9L1230,134.2M1231.8,134.2L1235.7,136.9M1231.8,136.9L1235.7,134.2M1241.2,132.9L1241.2,136.4M1246.8,134.2L1250.6,136.9M1246.8,136.9L1250.6,134.2M1252.4,134.2L1256.2,136.9M1252.4,136.9L1256.2,134.2M1258,134.2L1261.9,136.9M1258,136.9L1261.9,134.2M1267.4,132.9L1267.4,136.4M1273,134.2L1276.8,136.9M1273,136.9L1276.8,134.2M1278.6,134.2L1282.5,136.9M1278.6,136.9L1282.5,134.2M1284.2,134.2L1288.1,136.9M1284.2,136.9L1288.1,134.2M1293.6,132.9L1293.6,136.4M1299.1,134.2L1303,136.9M1299.1,136.9L1303,134.2M1304.8,134.2L1308.6,136.9M1304.8,136.9L1308.6,134.2M1310.4,134.2L1314.3,136.9M1310.4,136.9L1314.3,134.2M1319.8,132.9L1319.8,136.4M1325.3,134.2L1329.2,136.9M1325.3,136.9L1329.2,134.2M1331,134.2L1334.8,136.9M1331,136.9L1334.8,134.2M1336.6,134.2L1340.5,136.9M1336.6,136.9L1340.5,134.2M1346,132.9L1346,136.4M1351.5,134.2L1355.4,136.9M1351.5,136.9L1355.4,134.2M1357.2,134.2L1361,136.9M1357.2,136.9L1361,134.2M1362.8,134.2L1366.7,136.9M1362.8,136.9L1366.7,134.2M1372.2,132.9L1372.2,136.4M1377.8,134.2L1381.6,136.9M1377.8,136.9L1381.6,134.2M1383.4,134.2L1387.2,136.9M1383.4,136.9L1387.2,134.2M1389,134.2L1392.9,136.9M1389,136.9L1392.9,134.2M1398.4,132.9L1398.4,136.4M1404,134.2L1407.8,136.9M1404,136.9L1407.8,134.2M1409.6,134.2L1413.5,136.9M1409.6,136.9L1413.5,134.2M1415.2,134.2L1419.1,136.9M1415.2,136.9L1419.1,134.2M1424.6,132.9L1424.6,136.4M1430.1,134.2L1434,136.9M1430.1,136.9L1434,134.2M1435.8,134.2L1439.6,136.9M1435.8,136.9L1439.6,134.2M1441.4,134.2L1445.3,136.9M1441.4,136.9L1445.3,134.2" stroke="#f0fff0" stroke-width="1.15" stroke-opacity="0.78" fill="none" stroke-linejoin="round"/>
<path d="M685,132.8H698M685,135.4H698" stroke="#fff" stroke-width="1.3" stroke-opacity="0.9" fill="none"/>
<path d="M791,134.4h21.5v1.2h-21.5zM791,135.9h21.5v1.1h-21.5zM791,137.3h21.5v1.1h-21.5zM820,128h7v2.2h-7zM820,135h7v1.2h-7zM820,136.6h7v1.6h-7zM829.4,132.2h1.4v1.2h-1.4zM831,134.6h1.6v1.2h-1.6zM829.6,138h1.4v1h-1.4zM832.4,138h1.2v1h-1.2zM836,134.2h1.4v1.2h-1.4zM838,133.2h1.4v1.2h-1.4zM840,134.2h2v1.2h-2zM836.4,137.6h1.2v1h-1.2zM839,137.6h1.2v1h-1.2zM841.4,137.6h1.2v1h-1.2zM843.4,134.2h1.2v4.2h-1.2zM846.2,134.2h1.2v4.2h-1.2zM849,134.2h1.2v4.2h-1.2zM853,134.2h8v1.1h-8zM853,135.8h8v2.4h-8zM861,134.8h8v1.1h-8zM861,136.2h8v2.2h-8zM869,135.4h7v1.1h-7zM869,136.8h7v1.8h-7zM876,134h8.4v1.1h-8.4zM876,135.5h8.4v1.1h-8.4zM876,137h8.4v1.4h-8.4zM876.4,141h7.6v1h-7.6zM869.4,143.2h5.6v1h-5.6z" fill="#fff" fill-opacity="0.9"/>
<path d="M177.8,177.1H184.8M227,178.4H230M230,177.7H235M235,178.4H239M239.6,177.4H251M252.4,178H264.4M282.6,177.1H289.6M322.4,174.4H324.4M324.4,174.8H328.4M328.4,175.6H333.4M333.4,176.1H338.8M342.4,178.4H344.4M345,178H347M347.8,177.6H352.4M352.8,177.3H359.4M359.8,177.7H366.8M375.8,177.2H377.2M377.8,177.8H379.2M379.8,178.5H381.2M381.8,177.8H383.2M402.2,178.3H417.8M428.2,177.2H429.6M430.2,177.8H431.6M432.2,178.5H433.6M434.2,177.8H435.6M454.6,178.3H470.2M492.6,177.1H499.6M541,178.4H544M544,177.7H549M549,178.4H553M553.6,177.4H565M566.4,178H578.4M583.9,177.2H585.3M585.9,177.8H587.3M587.9,178.5H589.3M589.9,177.8H591.3M610.3,178.3H625.9M636.3,177.2H637.7M638.3,177.8H639.7M640.3,178.5H641.7M642.3,177.8H643.7M662.7,178.3H678.3M650,177.2H654M654,177.8H668M668,178.3H680M716,176H719M719,176.7H732M963.8,177.1H970.8M1012.6,178.4H1015.6M1015.6,177.7H1020.6M1020.6,178.4H1024.6M1025.2,177.4H1036.6M1038,178H1050M1069,177.1H1076M1117.4,178.4H1120.4M1120.4,177.7H1125.4M1125.4,178.4H1129.4M1130,177.4H1141.4M1142.8,178H1154.8M1160.3,177.2H1161.7M1162.3,177.8H1163.7M1164.3,178.5H1165.7M1166.3,177.8H1167.7M1186.7,178.3H1202.3M1356,178H1364" stroke="#ffe9c4" stroke-width="1.1" stroke-opacity="0.85" fill="none"/>
<path d="M163.8,180.3L164.8,178.8L165.8,177.4L166.8,176.8L170.8,176.8L172,177.8L173.3,179M190.5,180.3L191.7,178.6L193.1,177.2L193.9,176.7L197.5,176.7L198.9,177.8L200.5,179.6L212,179.7M217,180.3L218,178.6L219.4,177.2L220,176.8L224,176.8L225.4,178L227,179M268.6,180.3L269.6,178.8L270.6,177.4L271.6,176.8L275.6,176.8L276.8,177.8L278.1,179M295,180.3L296.2,178.6L297.6,177.2L298.4,176.7L302,176.7L303.4,177.8L305,179.6L316.5,179.7M383.8,178.2L385.8,177.2L388.8,177L390.8,177.8L392.8,177.1L395.8,177.1L397.8,177.9L401.4,177.9M436.2,178.2L438.2,177.2L441.2,177L443.2,177.8L445.2,177.1L448.2,177.1L450.2,177.9L453.8,177.9M478.6,180.3L479.6,178.8L480.6,177.4L481.6,176.8L485.6,176.8L486.8,177.8L488.1,179M506.8,180.3L508,178.6L509.4,177.2L510.2,176.7L513.8,176.7L515.2,177.8L516.8,179.6L528.3,179.7M531,180.3L532,178.6L533.4,177.2L534,176.8L538,176.8L539.4,178L541,179M591.9,178.2L593.9,177.2L596.9,177L598.9,177.8L600.9,177.1L603.9,177.1L605.9,177.9L609.5,177.9M644.3,178.2L646.3,177.2L649.3,177L651.3,177.8L653.3,177.1L656.3,177.1L658.3,177.9L661.9,177.9M685,175L690,174.6L693,175.4L697,174.9L701,175.8L705,175.2L710,176M738,177.6L742,177.2L746,177.6L750,177L754,176.6L758,176L762,175.4L765,175L784,175M949.8,180.3L950.8,178.8L951.8,177.4L952.8,176.8L956.8,176.8L958,177.8L959.3,179M976.4,180.3L977.6,178.6L979,177.2L979.8,176.7L983.4,176.7L984.8,177.8L986.4,179.6L997.9,179.7M1002.6,180.3L1003.6,178.6L1005,177.2L1005.6,176.8L1009.6,176.8L1011,178L1012.6,179M1055,180.3L1056,178.8L1057,177.4L1058,176.8L1062,176.8L1063.2,177.8L1064.5,179M1082.2,180.3L1083.4,178.6L1084.8,177.2L1085.6,176.7L1089.2,176.7L1090.6,177.8L1092.2,179.6L1103.7,179.7M1107.4,180.3L1108.4,178.6L1109.8,177.2L1110.4,176.8L1114.4,176.8L1115.8,178L1117.4,179M1168.3,178.2L1170.3,177.2L1173.3,177L1175.3,177.8L1177.3,177.1L1180.3,177.1L1182.3,177.9L1185.9,177.9M1366,178.6L1367.2,177.2L1368.6,176.5L1372,176.5L1373.2,177.2L1374.4,178L1386,178M1392.4,178.6L1393.6,177.2L1395,176.5L1398.4,176.5L1399.6,177.2L1400.8,178L1412.4,178M1422,178.6L1423.2,177.2L1424.6,176.5L1428,176.5L1429.2,177.2L1430.4,178L1442,178" stroke="#ffe9c4" stroke-width="1.1" stroke-opacity="0.85" fill="none" stroke-linejoin="round"/>
<path d="M58.2,222.4h2v4.4h-2zM61.6,221.6h2v5.2h-2zM65,221.4h2v1.9h-2zM65,224h2v2h-2zM68.3,221.4h2v1.9h-2zM68.3,224.2h2v1.8h-2zM71.7,221.4h2v1.4h-2zM75,221.4h2v1.6h-2zM78.3,221.4h2v1.6h-2zM81.5,222.2h2v3.8h-2zM56.6,229h2.3v1h-2.3zM63.6,227.2h2.3v1.2h-2.3zM66.8,227.2h2.3v1.2h-2.3zM70.2,226.4h2.3v1.3h-2.3zM76.6,226.4h2.3v1.3h-2.3zM79.8,227.4h2.3v1.2h-2.3zM84.4,222.4h2v4.4h-2zM87.8,221.6h2v5.2h-2zM91.2,221.4h2v1.9h-2zM91.2,224h2v2h-2zM94.5,221.4h2v1.9h-2zM94.5,224.2h2v1.8h-2zM97.9,221.4h2v1.4h-2zM101.2,221.4h2v1.6h-2zM104.5,221.4h2v1.6h-2zM107.7,222.2h2v3.8h-2zM82.8,229h2.3v1h-2.3zM89.8,227.2h2.3v1.2h-2.3zM93,227.2h2.3v1.2h-2.3zM96.4,226.4h2.3v1.3h-2.3zM102.8,226.4h2.3v1.3h-2.3zM106,227.4h2.3v1.2h-2.3zM110.6,222.4h2v4.4h-2zM114,221.6h2v5.2h-2zM117.4,221.4h2v1.9h-2zM117.4,224h2v2h-2zM120.7,221.4h2v1.9h-2zM120.7,224.2h2v1.8h-2zM124.1,221.4h2v1.4h-2zM127.4,221.4h2v1.6h-2zM130.7,221.4h2v1.6h-2zM133.9,222.2h2v3.8h-2zM109,229h2.3v1h-2.3zM116,227.2h2.3v1.2h-2.3zM119.2,227.2h2.3v1.2h-2.3zM122.6,226.4h2.3v1.3h-2.3zM129,226.4h2.3v1.3h-2.3zM132.2,227.4h2.3v1.2h-2.3zM136.8,222.4h2v4.4h-2zM140.2,221.6h2v5.2h-2zM143.6,221.4h2v1.9h-2zM143.6,224h2v2h-2zM146.9,221.4h2v1.9h-2zM146.9,224.2h2v1.8h-2zM150.3,221.4h2v1.4h-2zM153.6,221.4h2v1.6h-2zM156.9,221.4h2v1.6h-2zM160.1,222.2h2v3.8h-2zM135.2,229h2.3v1h-2.3zM142.2,227.2h2.3v1.2h-2.3zM145.4,227.2h2.3v1.2h-2.3zM148.8,226.4h2.3v1.3h-2.3zM155.2,226.4h2.3v1.3h-2.3zM158.4,227.4h2.3v1.2h-2.3zM163,222.4h2v4.4h-2zM166.4,221.6h2v5.2h-2zM169.8,221.4h2v1.9h-2zM169.8,224h2v2h-2zM173.1,221.4h2v1.9h-2zM173.1,224.2h2v1.8h-2zM176.5,221.4h2v1.4h-2zM179.8,221.4h2v1.6h-2zM183.1,221.4h2v1.6h-2zM186.3,222.2h2v3.8h-2zM161.4,229h2.3v1h-2.3zM168.4,227.2h2.3v1.2h-2.3zM171.6,227.2h2.3v1.2h-2.3zM175,226.4h2.3v1.3h-2.3zM181.4,226.4h2.3v1.3h-2.3zM184.6,227.4h2.3v1.2h-2.3zM189.2,222.4h2v4.4h-2zM192.6,221.6h2v5.2h-2zM196,221.4h2v1.9h-2zM196,224h2v2h-2zM199.3,221.4h2v1.9h-2zM199.3,224.2h2v1.8h-2zM202.7,221.4h2v1.4h-2zM206,221.4h2v1.6h-2zM209.3,221.4h2v1.6h-2zM212.5,222.2h2v3.8h-2zM187.6,229h2.3v1h-2.3zM194.6,227.2h2.3v1.2h-2.3zM197.8,227.2h2.3v1.2h-2.3zM201.2,226.4h2.3v1.3h-2.3zM207.6,226.4h2.3v1.3h-2.3zM210.8,227.4h2.3v1.2h-2.3zM215.4,222.4h2v4.4h-2zM218.8,221.6h2v5.2h-2zM222.2,221.4h2v1.9h-2zM222.2,224h2v2h-2zM225.5,221.4h2v1.9h-2zM225.5,224.2h2v1.8h-2zM228.9,221.4h2v1.4h-2zM232.2,221.4h2v1.6h-2zM235.5,221.4h2v1.6h-2zM238.7,222.2h2v3.8h-2zM213.8,229h2.3v1h-2.3zM220.8,227.2h2.3v1.2h-2.3zM224,227.2h2.3v1.2h-2.3zM227.4,226.4h2.3v1.3h-2.3zM233.8,226.4h2.3v1.3h-2.3zM237,227.4h2.3v1.2h-2.3zM241.6,222.4h2v4.4h-2zM245,221.6h2v5.2h-2zM248.4,221.4h2v1.9h-2zM248.4,224h2v2h-2zM251.7,221.4h2v1.9h-2zM251.7,224.2h2v1.8h-2zM255.1,221.4h2v1.4h-2zM258.4,221.4h2v1.6h-2zM261.7,221.4h2v1.6h-2zM264.9,222.2h2v3.8h-2zM240,229h2.3v1h-2.3zM247,227.2h2.3v1.2h-2.3zM250.2,227.2h2.3v1.2h-2.3zM253.6,226.4h2.3v1.3h-2.3zM260,226.4h2.3v1.3h-2.3zM263.2,227.4h2.3v1.2h-2.3zM267.8,222.4h2v4.4h-2zM271.2,221.6h2v5.2h-2zM274.6,221.4h2v1.9h-2zM274.6,224h2v2h-2zM277.9,221.4h2v1.9h-2zM277.9,224.2h2v1.8h-2zM281.3,221.4h2v1.4h-2zM284.6,221.4h2v1.6h-2zM287.9,221.4h2v1.6h-2zM291.1,222.2h2v3.8h-2zM266.2,229h2.3v1h-2.3zM273.2,227.2h2.3v1.2h-2.3zM276.4,227.2h2.3v1.2h-2.3zM279.8,226.4h2.3v1.3h-2.3zM286.2,226.4h2.3v1.3h-2.3zM289.4,227.4h2.3v1.2h-2.3zM294,222.4h2v4.4h-2zM297.4,221.6h2v5.2h-2zM300.8,221.4h2v1.9h-2zM300.8,224h2v2h-2zM304.1,221.4h2v1.9h-2zM304.1,224.2h2v1.8h-2zM307.5,221.4h2v1.4h-2zM310.8,221.4h2v1.6h-2zM314.1,221.4h2v1.6h-2zM317.3,222.2h2v3.8h-2zM292.4,229h2.3v1h-2.3zM299.4,227.2h2.3v1.2h-2.3zM302.6,227.2h2.3v1.2h-2.3zM306,226.4h2.3v1.3h-2.3zM312.4,226.4h2.3v1.3h-2.3zM315.6,227.4h2.3v1.2h-2.3zM320.2,222.4h2v4.4h-2zM323.6,221.6h2v5.2h-2zM327,221.4h2v1.9h-2zM327,224h2v2h-2zM330.3,221.4h2v1.9h-2zM330.3,224.2h2v1.8h-2zM333.7,221.4h2v1.4h-2zM337,221.4h2v1.6h-2zM340.3,221.4h2v1.6h-2zM343.5,222.2h2v3.8h-2zM318.6,229h2.3v1h-2.3zM325.6,227.2h2.3v1.2h-2.3zM328.8,227.2h2.3v1.2h-2.3zM332.2,226.4h2.3v1.3h-2.3zM338.6,226.4h2.3v1.3h-2.3zM341.8,227.4h2.3v1.2h-2.3zM346.4,222.4h2v4.4h-2zM349.8,221.6h2v5.2h-2zM353.2,221.4h2v1.9h-2zM353.2,224h2v2h-2zM356.5,221.4h2v1.9h-2zM356.5,224.2h2v1.8h-2zM359.9,221.4h2v1.4h-2zM363.2,221.4h2v1.6h-2zM366.5,221.4h2v1.6h-2zM369.7,222.2h2v3.8h-2zM344.8,229h2.3v1h-2.3zM351.8,227.2h2.3v1.2h-2.3zM355,227.2h2.3v1.2h-2.3zM358.4,226.4h2.3v1.3h-2.3zM364.8,226.4h2.3v1.3h-2.3zM368,227.4h2.3v1.2h-2.3zM372.6,222.4h2v4.4h-2zM376,221.6h2v5.2h-2zM379.4,221.4h2v1.9h-2zM379.4,224h2v2h-2zM382.7,221.4h2v1.9h-2zM382.7,224.2h2v1.8h-2zM386.1,221.4h2v1.4h-2zM389.4,221.4h2v1.6h-2zM392.7,221.4h2v1.6h-2zM395.9,222.2h2v3.8h-2zM371,229h2.3v1h-2.3zM378,227.2h2.3v1.2h-2.3zM381.2,227.2h2.3v1.2h-2.3zM384.6,226.4h2.3v1.3h-2.3zM391,226.4h2.3v1.3h-2.3zM394.2,227.4h2.3v1.2h-2.3zM398.8,222.4h2v4.4h-2zM402.2,221.6h2v5.2h-2zM405.6,221.4h2v1.9h-2zM405.6,224h2v2h-2zM408.9,221.4h2v1.9h-2zM408.9,224.2h2v1.8h-2zM412.3,221.4h2v1.4h-2zM415.6,221.4h2v1.6h-2zM418.9,221.4h2v1.6h-2zM422.1,222.2h2v3.8h-2zM397.2,229h2.3v1h-2.3zM404.2,227.2h2.3v1.2h-2.3zM407.4,227.2h2.3v1.2h-2.3zM410.8,226.4h2.3v1.3h-2.3zM417.2,226.4h2.3v1.3h-2.3zM420.4,227.4h2.3v1.2h-2.3zM425,222.4h2v4.4h-2zM428.4,221.6h2v5.2h-2zM431.8,221.4h2v1.9h-2zM431.8,224h2v2h-2zM435.1,221.4h2v1.9h-2zM435.1,224.2h2v1.8h-2zM438.5,221.4h2v1.4h-2zM441.8,221.4h2v1.6h-2zM445.1,221.4h2v1.6h-2zM448.3,222.2h2v3.8h-2zM423.4,229h2.3v1h-2.3zM430.4,227.2h2.3v1.2h-2.3zM433.6,227.2h2.3v1.2h-2.3zM437,226.4h2.3v1.3h-2.3zM443.4,226.4h2.3v1.3h-2.3zM446.6,227.4h2.3v1.2h-2.3zM451.2,222.4h2v4.4h-2zM454.6,221.6h2v5.2h-2zM458,221.4h2v1.9h-2zM458,224h2v2h-2zM461.3,221.4h2v1.9h-2zM461.3,224.2h2v1.8h-2zM464.7,221.4h2v1.4h-2zM468,221.4h2v1.6h-2zM471.3,221.4h2v1.6h-2zM474.5,222.2h2v3.8h-2zM449.6,229h2.3v1h-2.3zM456.6,227.2h2.3v1.2h-2.3zM459.8,227.2h2.3v1.2h-2.3zM463.2,226.4h2.3v1.3h-2.3zM469.6,226.4h2.3v1.3h-2.3zM472.8,227.4h2.3v1.2h-2.3zM477.4,222.4h2v4.4h-2zM480.8,221.6h2v5.2h-2zM484.2,221.4h2v1.9h-2zM484.2,224h2v2h-2zM487.5,221.4h2v1.9h-2zM487.5,224.2h2v1.8h-2zM490.9,221.4h2v1.4h-2zM494.2,221.4h2v1.6h-2zM497.5,221.4h2v1.6h-2zM500.7,222.2h2v3.8h-2zM475.8,229h2.3v1h-2.3zM482.8,227.2h2.3v1.2h-2.3zM486,227.2h2.3v1.2h-2.3zM489.4,226.4h2.3v1.3h-2.3zM495.8,226.4h2.3v1.3h-2.3zM499,227.4h2.3v1.2h-2.3zM503.6,222.4h2v4.4h-2zM507,221.6h2v5.2h-2zM510.4,221.4h2v1.9h-2zM510.4,224h2v2h-2zM513.7,221.4h2v1.9h-2zM513.7,224.2h2v1.8h-2zM517.1,221.4h2v1.4h-2zM520.4,221.4h2v1.6h-2zM523.7,221.4h2v1.6h-2zM526.9,222.2h2v3.8h-2zM502,229h2.3v1h-2.3zM509,227.2h2.3v1.2h-2.3zM512.2,227.2h2.3v1.2h-2.3zM515.6,226.4h2.3v1.3h-2.3zM522,226.4h2.3v1.3h-2.3zM525.2,227.4h2.3v1.2h-2.3zM529.8,222.4h2v4.4h-2zM533.2,221.6h2v5.2h-2zM536.6,221.4h2v1.9h-2zM536.6,224h2v2h-2zM539.9,221.4h2v1.9h-2zM539.9,224.2h2v1.8h-2zM543.3,221.4h2v1.4h-2zM546.6,221.4h2v1.6h-2zM549.9,221.4h2v1.6h-2zM553.1,222.2h2v3.8h-2zM528.2,229h2.3v1h-2.3zM535.2,227.2h2.3v1.2h-2.3zM538.4,227.2h2.3v1.2h-2.3zM541.8,226.4h2.3v1.3h-2.3zM548.2,226.4h2.3v1.3h-2.3zM551.4,227.4h2.3v1.2h-2.3zM556,222.4h2v4.4h-2zM559.4,221.6h2v5.2h-2zM562.8,221.4h2v1.9h-2zM562.8,224h2v2h-2zM566.1,221.4h2v1.9h-2zM566.1,224.2h2v1.8h-2zM569.5,221.4h2v1.4h-2zM572.8,221.4h2v1.6h-2zM576.1,221.4h2v1.6h-2zM579.3,222.2h2v3.8h-2zM554.4,229h2.3v1h-2.3zM561.4,227.2h2.3v1.2h-2.3zM564.6,227.2h2.3v1.2h-2.3zM568,226.4h2.3v1.3h-2.3zM574.4,226.4h2.3v1.3h-2.3zM577.6,227.4h2.3v1.2h-2.3zM582.2,222.4h2v4.4h-2zM585.6,221.6h2v5.2h-2zM589,221.4h2v1.9h-2zM589,224h2v2h-2zM592.3,221.4h2v1.9h-2zM592.3,224.2h2v1.8h-2zM595.7,221.4h2v1.4h-2zM599,221.4h2v1.6h-2zM602.3,221.4h2v1.6h-2zM605.5,222.2h2v3.8h-2zM580.6,229h2.3v1h-2.3zM587.6,227.2h2.3v1.2h-2.3zM590.8,227.2h2.3v1.2h-2.3zM594.2,226.4h2.3v1.3h-2.3zM600.6,226.4h2.3v1.3h-2.3zM603.8,227.4h2.3v1.2h-2.3zM608.4,222.4h2v4.4h-2zM611.8,221.6h2v5.2h-2zM615.2,221.4h2v1.9h-2zM615.2,224h2v2h-2zM618.5,221.4h2v1.9h-2zM618.5,224.2h2v1.8h-2zM621.9,221.4h2v1.4h-2zM625.2,221.4h2v1.6h-2zM628.5,221.4h2v1.6h-2zM631.7,222.2h2v3.8h-2zM606.8,229h2.3v1h-2.3zM613.8,227.2h2.3v1.2h-2.3zM617,227.2h2.3v1.2h-2.3zM620.4,226.4h2.3v1.3h-2.3zM626.8,226.4h2.3v1.3h-2.3zM630,227.4h2.3v1.2h-2.3zM634.6,222.4h2v4.4h-2zM638,221.6h2v5.2h-2zM641.4,221.4h2v1.9h-2zM641.4,224h2v2h-2zM644.7,221.4h2v1.9h-2zM644.7,224.2h2v1.8h-2zM648.1,221.4h2v1.4h-2zM651.4,221.4h2v1.6h-2zM654.7,221.4h2v1.6h-2zM657.9,222.2h2v3.8h-2zM633,229h2.3v1h-2.3zM640,227.2h2.3v1.2h-2.3zM643.2,227.2h2.3v1.2h-2.3zM646.6,226.4h2.3v1.3h-2.3zM653,226.4h2.3v1.3h-2.3zM656.2,227.4h2.3v1.2h-2.3zM660.8,222.4h2v4.4h-2zM664.2,221.6h2v5.2h-2zM667.6,221.4h2v1.9h-2zM667.6,224h2v2h-2zM670.9,221.4h2v1.9h-2zM670.9,224.2h2v1.8h-2zM674.3,221.4h2v1.4h-2zM677.6,221.4h2v1.6h-2zM680.9,221.4h2v1.6h-2zM684.1,222.2h2v3.8h-2zM659.2,229h2.3v1h-2.3zM666.2,227.2h2.3v1.2h-2.3zM669.4,227.2h2.3v1.2h-2.3zM672.8,226.4h2.3v1.3h-2.3zM679.2,226.4h2.3v1.3h-2.3zM682.4,227.4h2.3v1.2h-2.3zM949,222.4h2v4.4h-2zM952.4,221.6h2v5.2h-2zM955.8,221.4h2v1.9h-2zM955.8,224h2v2h-2zM959.1,221.4h2v1.9h-2zM959.1,224.2h2v1.8h-2zM962.5,221.4h2v1.4h-2zM965.8,221.4h2v1.6h-2zM969.1,221.4h2v1.6h-2zM972.3,222.2h2v3.8h-2zM947.4,229h2.3v1h-2.3zM954.4,227.2h2.3v1.2h-2.3zM957.6,227.2h2.3v1.2h-2.3zM961,226.4h2.3v1.3h-2.3zM967.4,226.4h2.3v1.3h-2.3zM970.6,227.4h2.3v1.2h-2.3zM975.2,222.4h2v4.4h-2zM978.6,221.6h2v5.2h-2zM982,221.4h2v1.9h-2zM982,224h2v2h-2zM985.3,221.4h2v1.9h-2zM985.3,224.2h2v1.8h-2zM988.7,221.4h2v1.4h-2zM992,221.4h2v1.6h-2zM995.3,221.4h2v1.6h-2zM998.5,222.2h2v3.8h-2zM973.6,229h2.3v1h-2.3zM980.6,227.2h2.3v1.2h-2.3zM983.8,227.2h2.3v1.2h-2.3zM987.2,226.4h2.3v1.3h-2.3zM993.6,226.4h2.3v1.3h-2.3zM996.8,227.4h2.3v1.2h-2.3zM1001.4,222.4h2v4.4h-2zM1004.8,221.6h2v5.2h-2zM1008.2,221.4h2v1.9h-2zM1008.2,224h2v2h-2zM1011.5,221.4h2v1.9h-2zM1011.5,224.2h2v1.8h-2zM1014.9,221.4h2v1.4h-2zM1018.2,221.4h2v1.6h-2zM1021.5,221.4h2v1.6h-2zM1024.7,222.2h2v3.8h-2zM999.8,229h2.3v1h-2.3zM1006.8,227.2h2.3v1.2h-2.3zM1010,227.2h2.3v1.2h-2.3zM1013.4,226.4h2.3v1.3h-2.3zM1019.8,226.4h2.3v1.3h-2.3zM1023,227.4h2.3v1.2h-2.3zM1027.6,222.4h2v4.4h-2zM1031,221.6h2v5.2h-2zM1034.4,221.4h2v1.9h-2zM1034.4,224h2v2h-2zM1037.7,221.4h2v1.9h-2zM1037.7,224.2h2v1.8h-2zM1041.1,221.4h2v1.4h-2zM1044.4,221.4h2v1.6h-2zM1047.7,221.4h2v1.6h-2zM1050.9,222.2h2v3.8h-2zM1026,229h2.3v1h-2.3zM1033,227.2h2.3v1.2h-2.3zM1036.2,227.2h2.3v1.2h-2.3zM1039.6,226.4h2.3v1.3h-2.3zM1046,226.4h2.3v1.3h-2.3zM1049.2,227.4h2.3v1.2h-2.3zM1053.8,222.4h2v4.4h-2zM1057.2,221.6h2v5.2h-2zM1060.6,221.4h2v1.9h-2zM1060.6,224h2v2h-2zM1063.9,221.4h2v1.9h-2zM1063.9,224.2h2v1.8h-2zM1067.3,221.4h2v1.4h-2zM1070.6,221.4h2v1.6h-2zM1073.9,221.4h2v1.6h-2zM1077.1,222.2h2v3.8h-2zM1052.2,229h2.3v1h-2.3zM1059.2,227.2h2.3v1.2h-2.3zM1062.4,227.2h2.3v1.2h-2.3zM1065.8,226.4h2.3v1.3h-2.3zM1072.2,226.4h2.3v1.3h-2.3zM1075.4,227.4h2.3v1.2h-2.3zM1080,222.4h2v4.4h-2zM1083.4,221.6h2v5.2h-2zM1086.8,221.4h2v1.9h-2zM1086.8,224h2v2h-2zM1090.1,221.4h2v1.9h-2zM1090.1,224.2h2v1.8h-2zM1093.5,221.4h2v1.4h-2zM1096.8,221.4h2v1.6h-2zM1100.1,221.4h2v1.6h-2zM1103.3,222.2h2v3.8h-2zM1078.4,229h2.3v1h-2.3zM1085.4,227.2h2.3v1.2h-2.3zM1088.6,227.2h2.3v1.2h-2.3zM1092,226.4h2.3v1.3h-2.3zM1098.4,226.4h2.3v1.3h-2.3zM1101.6,227.4h2.3v1.2h-2.3zM1106.2,222.4h2v4.4h-2zM1109.6,221.6h2v5.2h-2zM1113,221.4h2v1.9h-2zM1113,224h2v2h-2zM1116.3,221.4h2v1.9h-2zM1116.3,224.2h2v1.8h-2zM1119.7,221.4h2v1.4h-2zM1123,221.4h2v1.6h-2zM1126.3,221.4h2v1.6h-2zM1129.5,222.2h2v3.8h-2zM1104.6,229h2.3v1h-2.3zM1111.6,227.2h2.3v1.2h-2.3zM1114.8,227.2h2.3v1.2h-2.3zM1118.2,226.4h2.3v1.3h-2.3zM1124.6,226.4h2.3v1.3h-2.3zM1127.8,227.4h2.3v1.2h-2.3zM1132.4,222.4h2v4.4h-2zM1135.8,221.6h2v5.2h-2zM1139.2,221.4h2v1.9h-2zM1139.2,224h2v2h-2zM1142.5,221.4h2v1.9h-2zM1142.5,224.2h2v1.8h-2zM1145.9,221.4h2v1.4h-2zM1149.2,221.4h2v1.6h-2zM1152.5,221.4h2v1.6h-2zM1155.7,222.2h2v3.8h-2zM1130.8,229h2.3v1h-2.3zM1137.8,227.2h2.3v1.2h-2.3zM1141,227.2h2.3v1.2h-2.3zM1144.4,226.4h2.3v1.3h-2.3zM1150.8,226.4h2.3v1.3h-2.3zM1154,227.4h2.3v1.2h-2.3zM1158.6,222.4h2v4.4h-2zM1162,221.6h2v5.2h-2zM1165.4,221.4h2v1.9h-2zM1165.4,224h2v2h-2zM1168.7,221.4h2v1.9h-2zM1168.7,224.2h2v1.8h-2zM1172.1,221.4h2v1.4h-2zM1175.4,221.4h2v1.6h-2zM1178.7,221.4h2v1.6h-2zM1181.9,222.2h2v3.8h-2zM1157,229h2.3v1h-2.3zM1164,227.2h2.3v1.2h-2.3zM1167.2,227.2h2.3v1.2h-2.3zM1170.6,226.4h2.3v1.3h-2.3zM1177,226.4h2.3v1.3h-2.3zM1180.2,227.4h2.3v1.2h-2.3zM1184.8,222.4h2v4.4h-2zM1188.2,221.6h2v5.2h-2zM1191.6,221.4h2v1.9h-2zM1191.6,224h2v2h-2zM1194.9,221.4h2v1.9h-2zM1194.9,224.2h2v1.8h-2zM1198.3,221.4h2v1.4h-2zM1201.6,221.4h2v1.6h-2zM1204.9,221.4h2v1.6h-2zM1208.1,222.2h2v3.8h-2zM1183.2,229h2.3v1h-2.3zM1190.2,227.2h2.3v1.2h-2.3zM1193.4,227.2h2.3v1.2h-2.3zM1196.8,226.4h2.3v1.3h-2.3zM1203.2,226.4h2.3v1.3h-2.3zM1206.4,227.4h2.3v1.2h-2.3zM1211,222.4h2v4.4h-2zM1214.4,221.6h2v5.2h-2zM1217.8,221.4h2v1.9h-2zM1217.8,224h2v2h-2zM1221.1,221.4h2v1.9h-2zM1221.1,224.2h2v1.8h-2zM1224.5,221.4h2v1.4h-2zM1227.8,221.4h2v1.6h-2zM1231.1,221.4h2v1.6h-2zM1234.3,222.2h2v3.8h-2zM1209.4,229h2.3v1h-2.3zM1216.4,227.2h2.3v1.2h-2.3zM1219.6,227.2h2.3v1.2h-2.3zM1223,226.4h2.3v1.3h-2.3zM1229.4,226.4h2.3v1.3h-2.3zM1232.6,227.4h2.3v1.2h-2.3zM1237.2,222.4h2v4.4h-2zM1240.6,221.6h2v5.2h-2zM1244,221.4h2v1.9h-2zM1244,224h2v2h-2zM1247.3,221.4h2v1.9h-2zM1247.3,224.2h2v1.8h-2zM1250.7,221.4h2v1.4h-2zM1254,221.4h2v1.6h-2zM1257.3,221.4h2v1.6h-2zM1260.5,222.2h2v3.8h-2zM1235.6,229h2.3v1h-2.3zM1242.6,227.2h2.3v1.2h-2.3zM1245.8,227.2h2.3v1.2h-2.3zM1249.2,226.4h2.3v1.3h-2.3zM1255.6,226.4h2.3v1.3h-2.3zM1258.8,227.4h2.3v1.2h-2.3zM1263.4,222.4h2v4.4h-2zM1266.8,221.6h2v5.2h-2zM1270.2,221.4h2v1.9h-2zM1270.2,224h2v2h-2zM1273.5,221.4h2v1.9h-2zM1273.5,224.2h2v1.8h-2zM1276.9,221.4h2v1.4h-2zM1280.2,221.4h2v1.6h-2zM1283.5,221.4h2v1.6h-2zM1286.7,222.2h2v3.8h-2zM1261.8,229h2.3v1h-2.3zM1268.8,227.2h2.3v1.2h-2.3zM1272,227.2h2.3v1.2h-2.3zM1275.4,226.4h2.3v1.3h-2.3zM1281.8,226.4h2.3v1.3h-2.3zM1285,227.4h2.3v1.2h-2.3zM1289.6,222.4h2v4.4h-2zM1293,221.6h2v5.2h-2zM1296.4,221.4h2v1.9h-2zM1296.4,224h2v2h-2zM1299.7,221.4h2v1.9h-2zM1299.7,224.2h2v1.8h-2zM1303.1,221.4h2v1.4h-2zM1306.4,221.4h2v1.6h-2zM1309.7,221.4h2v1.6h-2zM1312.9,222.2h2v3.8h-2zM1288,229h2.3v1h-2.3zM1295,227.2h2.3v1.2h-2.3zM1298.2,227.2h2.3v1.2h-2.3zM1301.6,226.4h2.3v1.3h-2.3zM1308,226.4h2.3v1.3h-2.3zM1311.2,227.4h2.3v1.2h-2.3zM1315.8,222.4h2v4.4h-2zM1319.2,221.6h2v5.2h-2zM1322.6,221.4h2v1.9h-2zM1322.6,224h2v2h-2zM1325.9,221.4h2v1.9h-2zM1325.9,224.2h2v1.8h-2zM1329.3,221.4h2v1.4h-2zM1332.6,221.4h2v1.6h-2zM1335.9,221.4h2v1.6h-2zM1339.1,222.2h2v3.8h-2zM1314.2,229h2.3v1h-2.3zM1321.2,227.2h2.3v1.2h-2.3zM1324.4,227.2h2.3v1.2h-2.3zM1327.8,226.4h2.3v1.3h-2.3zM1334.2,226.4h2.3v1.3h-2.3zM1337.4,227.4h2.3v1.2h-2.3zM1342,222.4h2v4.4h-2zM1345.4,221.6h2v5.2h-2zM1348.8,221.4h2v1.9h-2zM1348.8,224h2v2h-2zM1352.1,221.4h2v1.9h-2zM1352.1,224.2h2v1.8h-2zM1355.5,221.4h2v1.4h-2zM1358.8,221.4h2v1.6h-2zM1362.1,221.4h2v1.6h-2zM1365.3,222.2h2v3.8h-2zM1340.4,229h2.3v1h-2.3zM1347.4,227.2h2.3v1.2h-2.3zM1350.6,227.2h2.3v1.2h-2.3zM1354,226.4h2.3v1.3h-2.3zM1360.4,226.4h2.3v1.3h-2.3zM1363.6,227.4h2.3v1.2h-2.3zM1368.2,222.4h2v4.4h-2zM1371.6,221.6h2v5.2h-2zM1375,221.4h2v1.9h-2zM1375,224h2v2h-2zM1378.3,221.4h2v1.9h-2zM1378.3,224.2h2v1.8h-2zM1381.7,221.4h2v1.4h-2zM1385,221.4h2v1.6h-2zM1388.3,221.4h2v1.6h-2zM1391.5,222.2h2v3.8h-2zM1366.6,229h2.3v1h-2.3zM1373.6,227.2h2.3v1.2h-2.3zM1376.8,227.2h2.3v1.2h-2.3zM1380.2,226.4h2.3v1.3h-2.3zM1386.6,226.4h2.3v1.3h-2.3zM1389.8,227.4h2.3v1.2h-2.3zM1394.4,222.4h2v4.4h-2zM1397.8,221.6h2v5.2h-2zM1401.2,221.4h2v1.9h-2zM1401.2,224h2v2h-2zM1404.5,221.4h2v1.9h-2zM1404.5,224.2h2v1.8h-2zM1407.9,221.4h2v1.4h-2zM1411.2,221.4h2v1.6h-2zM1414.5,221.4h2v1.6h-2zM1417.7,222.2h2v3.8h-2zM1392.8,229h2.3v1h-2.3zM1399.8,227.2h2.3v1.2h-2.3zM1403,227.2h2.3v1.2h-2.3zM1406.4,226.4h2.3v1.3h-2.3zM1412.8,226.4h2.3v1.3h-2.3zM1416,227.4h2.3v1.2h-2.3zM1420.6,222.4h2v4.4h-2zM1424,221.6h2v5.2h-2zM1427.4,221.4h2v1.9h-2zM1427.4,224h2v2h-2zM1430.7,221.4h2v1.9h-2zM1430.7,224.2h2v1.8h-2zM1434.1,221.4h2v1.4h-2zM1437.4,221.4h2v1.6h-2zM1440.7,221.4h2v1.6h-2zM1443.9,222.2h2v3.8h-2zM1419,229h2.3v1h-2.3zM1426,227.2h2.3v1.2h-2.3zM1429.2,227.2h2.3v1.2h-2.3zM1432.6,226.4h2.3v1.3h-2.3zM1439,226.4h2.3v1.3h-2.3zM1442.2,227.4h2.3v1.2h-2.3zM684.6,222.2h2.2v1.5h-2.2zM684.6,224.6h2.2v1.8h-2.2zM687.9,222.2h2.2v1.5h-2.2zM687.9,224.6h2.2v1.8h-2.2zM691.2,222.2h2.2v1.5h-2.2zM691.2,224.6h2.2v1.8h-2.2zM694.4,222.2h2.2v1.5h-2.2zM694.4,224.6h2.2v1.8h-2.2zM697.7,222.2h2.2v4.2h-2.2zM701,222.2h2.2v4.2h-2.2zM704.3,222.2h2.2v4.2h-2.2zM707.6,222.2h2.2v4.2h-2.2zM710.8,222.2h2.2v4.2h-2.2zM714.1,224h2.2v3.6h-2.2zM717.4,224h2.2v3.6h-2.2zM720.7,224h2.2v3.6h-2.2zM724,224h2.2v3.6h-2.2zM727.2,224h2.2v3.6h-2.2zM730.5,224h2.2v3.6h-2.2zM733.8,224h2.2v3.6h-2.2zM737.1,224h2.2v3.6h-2.2zM740.4,224h2.2v3.6h-2.2zM743.6,224h2.2v3.6h-2.2zM746.9,224h2.2v3.6h-2.2zM750.2,224h2.2v3.6h-2.2zM753.5,222.8h2.2v3.6h-2.2zM756.8,222.8h2.2v3.6h-2.2zM760,222.8h2.2v3.6h-2.2zM763.3,222.8h2.2v3.6h-2.2zM766.6,222h2.2v1.3h-2.2zM767.2,223.3h1v3.5h-1zM769.9,222h2.2v1.3h-2.2zM770.5,223.3h1v3.5h-1zM773.2,222h2.2v1.3h-2.2zM773.8,223.3h1v3.5h-1zM777,222h1v3.6h-1zM776.4,225.6h2.2v1.2h-2.2zM780.3,222h1v3.6h-1zM779.7,225.6h2.2v1.2h-2.2zM783.6,222h1v3.6h-1zM783,225.6h2.2v1.2h-2.2zM791.4,223.4h1.2v3h-1.2zM798.1,222h1.4v1.2h-1.4zM798.1,224.2h1.4v1.4h-1.4zM804.8,221.6h1.2v1.4h-1.2zM811.6,224h1.2v3.2h-1.2zM818.3,223.4h1.2v3h-1.2zM825,222h1.4v1.2h-1.4zM825,224.2h1.4v1.4h-1.4zM831.7,221.6h1.2v1.4h-1.2zM838.4,224h1.2v3.2h-1.2zM845.2,223.4h1.2v3h-1.2zM851.9,222h1.4v1.2h-1.4zM851.9,224.2h1.4v1.4h-1.4zM858.6,221.6h1.2v1.4h-1.2zM865.3,224h1.2v3.2h-1.2zM872,223.4h1.2v3h-1.2zM878.8,222h1.4v1.2h-1.4zM878.8,224.2h1.4v1.4h-1.4zM885.5,221.6h1.2v1.4h-1.2z" fill="#ffdcff" fill-opacity="0.9"/>
<path d="M71.7,223.8h2v1.3h-2zM75,223.8h2v1.3h-2zM78.3,223.8h2v1.3h-2zM97.9,223.8h2v1.3h-2zM101.2,223.8h2v1.3h-2zM104.5,223.8h2v1.3h-2zM124.1,223.8h2v1.3h-2zM127.4,223.8h2v1.3h-2zM130.7,223.8h2v1.3h-2zM150.3,223.8h2v1.3h-2zM153.6,223.8h2v1.3h-2zM156.9,223.8h2v1.3h-2zM176.5,223.8h2v1.3h-2zM179.8,223.8h2v1.3h-2zM183.1,223.8h2v1.3h-2zM202.7,223.8h2v1.3h-2zM206,223.8h2v1.3h-2zM209.3,223.8h2v1.3h-2zM228.9,223.8h2v1.3h-2zM232.2,223.8h2v1.3h-2zM235.5,223.8h2v1.3h-2zM255.1,223.8h2v1.3h-2zM258.4,223.8h2v1.3h-2zM261.7,223.8h2v1.3h-2zM281.3,223.8h2v1.3h-2zM284.6,223.8h2v1.3h-2zM287.9,223.8h2v1.3h-2zM307.5,223.8h2v1.3h-2zM310.8,223.8h2v1.3h-2zM314.1,223.8h2v1.3h-2zM333.7,223.8h2v1.3h-2zM337,223.8h2v1.3h-2zM340.3,223.8h2v1.3h-2zM359.9,223.8h2v1.3h-2zM363.2,223.8h2v1.3h-2zM366.5,223.8h2v1.3h-2zM386.1,223.8h2v1.3h-2zM389.4,223.8h2v1.3h-2zM392.7,223.8h2v1.3h-2zM412.3,223.8h2v1.3h-2zM415.6,223.8h2v1.3h-2zM418.9,223.8h2v1.3h-2zM438.5,223.8h2v1.3h-2zM441.8,223.8h2v1.3h-2zM445.1,223.8h2v1.3h-2zM464.7,223.8h2v1.3h-2zM468,223.8h2v1.3h-2zM471.3,223.8h2v1.3h-2zM490.9,223.8h2v1.3h-2zM494.2,223.8h2v1.3h-2zM497.5,223.8h2v1.3h-2zM517.1,223.8h2v1.3h-2zM520.4,223.8h2v1.3h-2zM523.7,223.8h2v1.3h-2zM543.3,223.8h2v1.3h-2zM546.6,223.8h2v1.3h-2zM549.9,223.8h2v1.3h-2zM569.5,223.8h2v1.3h-2zM572.8,223.8h2v1.3h-2zM576.1,223.8h2v1.3h-2zM595.7,223.8h2v1.3h-2zM599,223.8h2v1.3h-2zM602.3,223.8h2v1.3h-2zM621.9,223.8h2v1.3h-2zM625.2,223.8h2v1.3h-2zM628.5,223.8h2v1.3h-2zM648.1,223.8h2v1.3h-2zM651.4,223.8h2v1.3h-2zM654.7,223.8h2v1.3h-2zM674.3,223.8h2v1.3h-2zM677.6,223.8h2v1.3h-2zM680.9,223.8h2v1.3h-2zM962.5,223.8h2v1.3h-2zM965.8,223.8h2v1.3h-2zM969.1,223.8h2v1.3h-2zM988.7,223.8h2v1.3h-2zM992,223.8h2v1.3h-2zM995.3,223.8h2v1.3h-2zM1014.9,223.8h2v1.3h-2zM1018.2,223.8h2v1.3h-2zM1021.5,223.8h2v1.3h-2zM1041.1,223.8h2v1.3h-2zM1044.4,223.8h2v1.3h-2zM1047.7,223.8h2v1.3h-2zM1067.3,223.8h2v1.3h-2zM1070.6,223.8h2v1.3h-2zM1073.9,223.8h2v1.3h-2zM1093.5,223.8h2v1.3h-2zM1096.8,223.8h2v1.3h-2zM1100.1,223.8h2v1.3h-2zM1119.7,223.8h2v1.3h-2zM1123,223.8h2v1.3h-2zM1126.3,223.8h2v1.3h-2zM1145.9,223.8h2v1.3h-2zM1149.2,223.8h2v1.3h-2zM1152.5,223.8h2v1.3h-2zM1172.1,223.8h2v1.3h-2zM1175.4,223.8h2v1.3h-2zM1178.7,223.8h2v1.3h-2zM1198.3,223.8h2v1.3h-2zM1201.6,223.8h2v1.3h-2zM1204.9,223.8h2v1.3h-2zM1224.5,223.8h2v1.3h-2zM1227.8,223.8h2v1.3h-2zM1231.1,223.8h2v1.3h-2zM1250.7,223.8h2v1.3h-2zM1254,223.8h2v1.3h-2zM1257.3,223.8h2v1.3h-2zM1276.9,223.8h2v1.3h-2zM1280.2,223.8h2v1.3h-2zM1283.5,223.8h2v1.3h-2zM1303.1,223.8h2v1.3h-2zM1306.4,223.8h2v1.3h-2zM1309.7,223.8h2v1.3h-2zM1329.3,223.8h2v1.3h-2zM1332.6,223.8h2v1.3h-2zM1335.9,223.8h2v1.3h-2zM1355.5,223.8h2v1.3h-2zM1358.8,223.8h2v1.3h-2zM1362.1,223.8h2v1.3h-2zM1381.7,223.8h2v1.3h-2zM1385,223.8h2v1.3h-2zM1388.3,223.8h2v1.3h-2zM1407.9,223.8h2v1.3h-2zM1411.2,223.8h2v1.3h-2zM1414.5,223.8h2v1.3h-2zM1434.1,223.8h2v1.3h-2zM1437.4,223.8h2v1.3h-2zM1440.7,223.8h2v1.3h-2z" fill="#ffdcff" fill-opacity="0.5"/>
<path d="M685.3,312.6h12.7v4.2h-12.7zM698,314.6h14v2.6h-14zM712,313h39v3.6h-39zM751,314.8h13v2.2h-13zM764,312.6h20.4v4h-20.4z" fill="#f4f4f0" fill-opacity="0.82"/>
<path d="M685.3,311.3h1.1v1.3h-1.1zM687.5,311.3h1.1v1.3h-1.1zM689.7,311.3h1.1v1.3h-1.1zM691.9,311.3h1.1v1.3h-1.1zM694.1,311.3h1.1v1.3h-1.1zM696.3,311.3h1.1v1.3h-1.1zM698,313.3h1.1v1.3h-1.1zM700.2,313.3h1.1v1.3h-1.1zM702.4,313.3h1.1v1.3h-1.1zM704.6,313.3h1.1v1.3h-1.1zM706.8,313.3h1.1v1.3h-1.1zM709,313.3h1.1v1.3h-1.1zM711.2,313.3h1.1v1.3h-1.1zM712,311.7h1.1v1.3h-1.1zM714.2,311.7h1.1v1.3h-1.1zM716.4,311.7h1.1v1.3h-1.1zM718.6,311.7h1.1v1.3h-1.1zM720.8,311.7h1.1v1.3h-1.1zM723,311.7h1.1v1.3h-1.1zM725.2,311.7h1.1v1.3h-1.1zM727.4,311.7h1.1v1.3h-1.1zM729.6,311.7h1.1v1.3h-1.1zM731.8,311.7h1.1v1.3h-1.1zM734,311.7h1.1v1.3h-1.1zM736.2,311.7h1.1v1.3h-1.1zM738.4,311.7h1.1v1.3h-1.1zM740.6,311.7h1.1v1.3h-1.1zM742.8,311.7h1.1v1.3h-1.1zM745,311.7h1.1v1.3h-1.1zM747.2,311.7h1.1v1.3h-1.1zM749.4,311.7h1.1v1.3h-1.1zM751,313.5h1.1v1.3h-1.1zM753.2,313.5h1.1v1.3h-1.1zM755.4,313.5h1.1v1.3h-1.1zM757.6,313.5h1.1v1.3h-1.1zM759.8,313.5h1.1v1.3h-1.1zM762,313.5h1.1v1.3h-1.1zM764,311.3h1.1v1.3h-1.1zM766.2,311.3h1.1v1.3h-1.1zM768.4,311.3h1.1v1.3h-1.1zM770.6,311.3h1.1v1.3h-1.1zM772.8,311.3h1.1v1.3h-1.1zM775,311.3h1.1v1.3h-1.1zM777.2,311.3h1.1v1.3h-1.1zM779.4,311.3h1.1v1.3h-1.1zM781.6,311.3h1.1v1.3h-1.1zM783.8,311.3h1.1v1.3h-1.1zM686.4,316.8h1.1v1.4h-1.1zM688.6,316.8h1.1v1.4h-1.1zM690.8,316.8h1.1v1.4h-1.1zM693,316.8h1.1v1.4h-1.1zM695.2,316.8h1.1v1.4h-1.1zM697.4,316.8h1.1v1.4h-1.1zM699.1,317.2h1.1v1.4h-1.1zM701.3,317.2h1.1v1.4h-1.1zM703.5,317.2h1.1v1.4h-1.1zM705.7,317.2h1.1v1.4h-1.1zM707.9,317.2h1.1v1.4h-1.1zM710.1,317.2h1.1v1.4h-1.1zM712.3,317.2h1.1v1.4h-1.1zM713.1,316.6h1.1v1.4h-1.1zM715.3,316.6h1.1v1.4h-1.1zM717.5,316.6h1.1v1.4h-1.1zM719.7,316.6h1.1v1.4h-1.1zM721.9,316.6h1.1v1.4h-1.1zM724.1,316.6h1.1v1.4h-1.1zM726.3,316.6h1.1v1.4h-1.1zM728.5,316.6h1.1v1.4h-1.1zM730.7,316.6h1.1v1.4h-1.1zM732.9,316.6h1.1v1.4h-1.1zM735.1,316.6h1.1v1.4h-1.1zM737.3,316.6h1.1v1.4h-1.1zM739.5,316.6h1.1v1.4h-1.1zM741.7,316.6h1.1v1.4h-1.1zM743.9,316.6h1.1v1.4h-1.1zM746.1,316.6h1.1v1.4h-1.1zM748.3,316.6h1.1v1.4h-1.1zM750.5,316.6h1.1v1.4h-1.1zM752.1,317h1.1v1.4h-1.1zM754.3,317h1.1v1.4h-1.1zM756.5,317h1.1v1.4h-1.1zM758.7,317h1.1v1.4h-1.1zM760.9,317h1.1v1.4h-1.1zM763.1,317h1.1v1.4h-1.1zM765.1,316.6h1.1v1.4h-1.1zM767.3,316.6h1.1v1.4h-1.1zM769.5,316.6h1.1v1.4h-1.1zM771.7,316.6h1.1v1.4h-1.1zM773.9,316.6h1.1v1.4h-1.1zM776.1,316.6h1.1v1.4h-1.1zM778.3,316.6h1.1v1.4h-1.1zM780.5,316.6h1.1v1.4h-1.1zM782.7,316.6h1.1v1.4h-1.1zM784.9,316.6h1.1v1.4h-1.1z" fill="#fffff4" fill-opacity="0.9"/>
<path d="M685.3,357h23.7v4.4h-23.7zM709,359.6h28v2.6h-28zM737,358.6h13v3.2h-13zM750,357.2h34.4v3.8h-34.4z" fill="#f4f4f0" fill-opacity="0.82"/>
<path d="M685.3,355.7h1.1v1.3h-1.1zM687.5,355.7h1.1v1.3h-1.1zM689.7,355.7h1.1v1.3h-1.1zM691.9,355.7h1.1v1.3h-1.1zM694.1,355.7h1.1v1.3h-1.1zM696.3,355.7h1.1v1.3h-1.1zM698.5,355.7h1.1v1.3h-1.1zM700.7,355.7h1.1v1.3h-1.1zM702.9,355.7h1.1v1.3h-1.1zM705.1,355.7h1.1v1.3h-1.1zM707.3,355.7h1.1v1.3h-1.1zM709,358.3h1.1v1.3h-1.1zM711.2,358.3h1.1v1.3h-1.1zM713.4,358.3h1.1v1.3h-1.1zM715.6,358.3h1.1v1.3h-1.1zM717.8,358.3h1.1v1.3h-1.1zM720,358.3h1.1v1.3h-1.1zM722.2,358.3h1.1v1.3h-1.1zM724.4,358.3h1.1v1.3h-1.1zM726.6,358.3h1.1v1.3h-1.1zM728.8,358.3h1.1v1.3h-1.1zM731,358.3h1.1v1.3h-1.1zM733.2,358.3h1.1v1.3h-1.1zM735.4,358.3h1.1v1.3h-1.1zM737,357.3h1.1v1.3h-1.1zM739.2,357.3h1.1v1.3h-1.1zM741.4,357.3h1.1v1.3h-1.1zM743.6,357.3h1.1v1.3h-1.1zM745.8,357.3h1.1v1.3h-1.1zM748,357.3h1.1v1.3h-1.1zM750,355.9h1.1v1.3h-1.1zM752.2,355.9h1.1v1.3h-1.1zM754.4,355.9h1.1v1.3h-1.1zM756.6,355.9h1.1v1.3h-1.1zM758.8,355.9h1.1v1.3h-1.1zM761,355.9h1.1v1.3h-1.1zM763.2,355.9h1.1v1.3h-1.1zM765.4,355.9h1.1v1.3h-1.1zM767.6,355.9h1.1v1.3h-1.1zM769.8,355.9h1.1v1.3h-1.1zM772,355.9h1.1v1.3h-1.1zM774.2,355.9h1.1v1.3h-1.1zM776.4,355.9h1.1v1.3h-1.1zM778.6,355.9h1.1v1.3h-1.1zM780.8,355.9h1.1v1.3h-1.1zM783,355.9h1.1v1.3h-1.1zM686.4,361.4h1.1v1.4h-1.1zM688.6,361.4h1.1v1.4h-1.1zM690.8,361.4h1.1v1.4h-1.1zM693,361.4h1.1v1.4h-1.1zM695.2,361.4h1.1v1.4h-1.1zM697.4,361.4h1.1v1.4h-1.1zM699.6,361.4h1.1v1.4h-1.1zM701.8,361.4h1.1v1.4h-1.1zM704,361.4h1.1v1.4h-1.1zM706.2,361.4h1.1v1.4h-1.1zM708.4,361.4h1.1v1.4h-1.1zM710.1,362.2h1.1v1.4h-1.1zM712.3,362.2h1.1v1.4h-1.1zM714.5,362.2h1.1v1.4h-1.1zM716.7,362.2h1.1v1.4h-1.1zM718.9,362.2h1.1v1.4h-1.1zM721.1,362.2h1.1v1.4h-1.1zM723.3,362.2h1.1v1.4h-1.1zM725.5,362.2h1.1v1.4h-1.1zM727.7,362.2h1.1v1.4h-1.1zM729.9,362.2h1.1v1.4h-1.1zM732.1,362.2h1.1v1.4h-1.1zM734.3,362.2h1.1v1.4h-1.1zM736.5,362.2h1.1v1.4h-1.1zM738.1,361.8h1.1v1.4h-1.1zM740.3,361.8h1.1v1.4h-1.1zM742.5,361.8h1.1v1.4h-1.1zM744.7,361.8h1.1v1.4h-1.1zM746.9,361.8h1.1v1.4h-1.1zM749.1,361.8h1.1v1.4h-1.1zM751.1,361h1.1v1.4h-1.1zM753.3,361h1.1v1.4h-1.1zM755.5,361h1.1v1.4h-1.1zM757.7,361h1.1v1.4h-1.1zM759.9,361h1.1v1.4h-1.1zM762.1,361h1.1v1.4h-1.1zM764.3,361h1.1v1.4h-1.1zM766.5,361h1.1v1.4h-1.1zM768.7,361h1.1v1.4h-1.1zM770.9,361h1.1v1.4h-1.1zM773.1,361h1.1v1.4h-1.1zM775.3,361h1.1v1.4h-1.1zM777.5,361h1.1v1.4h-1.1zM779.7,361h1.1v1.4h-1.1zM781.9,361h1.1v1.4h-1.1zM784.1,361h1.1v1.4h-1.1z" fill="#fffff4" fill-opacity="0.9"/>
<path d="M110,402.6H132M158,405H168M211,401.4H221M262,403.3H270M308,400.1H314M380,400H391M397,403H405M411,404H420M448,404H456M456,405H468M470,399.6H477M497,399.6H509M532,403.4H539M539,405H548M634,404H639M686,398.6H693M696,399.4H706M710,404.4H718M722,402.6H727M749,399H762M761,398H782M805,403H816M831,404.6H836M897,404.4H903M949,404.4H958M978,399.4H987M987,400H1000M1000,397.4H1028M1054,403.4H1060M1078,404.4H1084M1097,402.4H1106M1106,403.4H1113M1128,401.4H1134M1134,404H1148M1168,405H1178M1206,400H1219M1219,401.4H1222M1233,404.4H1240M1272,399.4H1288M1288,401H1296M1300,404.6H1306M1312,402.4H1330M1360,403.4H1371M1400,402.6H1404M1426,400.6H1432M1472,398.6H1480" stroke="#e8f6ff" stroke-width="1.3" stroke-opacity="0.9" fill="none"/>
<path d="M104,400.2L106,401L108,402.2L109.6,402.2M132,403.4L136,403.8L140,404.4L145,404L150,404.6L152,403.2L154,403.8L156,404.2L158,405M208,400L209.4,401.4L211,403M258,399L260,400.6L262,402.2M314,400.4L318,401.2L322,400.8L326,401.6L330,401M358,402.6L363,402.2L368,401.6L371,400.8L374,400.6M408,400.6L409.6,401.6L411,403M433,403L438,403L440,403.6L443,402.8L448,403.2M489,404.6L492,403.6L494,404L497,402.6M521,397.4L522.6,398.4L524,399.4L526,400.6L528,402L530,402.2L532,404M569,402L572,401L576,400L579,401L583,403M658,402L662,401L666,400.2L670,400M678,402L681,400.6L684,399L686,398.2M693,399.2L694.6,401L696,399.6M706,400L708,402.6L710,404.2M729,402L734,401.6L740,401.2L745,401L747,399.8L749,399M782,398.4L784,400L786,401.6L788,402.6M788,403L793,403.4L798,402.8L804,403M818,402.8L823,402.6L827,403.2L831,403.4M838,403.4L842,401.4L846,399.4L849,401L852,402.6L854,400.6L856,399.4L859,401.4L862,403.4L865,401.2L869,398.6L872,400.4L875,402.2L879,404M880,400.4L882,399.6L884,398.6L886,399.8M958,402L960,401.2L964,401L971,401L973,402.6L976,403L978,401M1049,401.2L1052,402L1054,403M1123,405L1125,403.6L1127,402.2L1128,401.6M1201,403.4L1203,401.8L1205,400.6L1206,400M1226,401L1229,402L1232,403.2L1233,404M1255,400.6L1259,400.2L1261,399.6L1263,400.4L1266,400.6M1296,402L1298,403.6L1300,404.4M1408,401L1411,401.6L1414,402.4L1416,402.6M1418,403L1420,401.6L1422,400.4L1424,400L1426,400.4M1432,403L1434,401.6L1436,400.4L1438,400L1440,400.4M1440,402.6L1442,401.6L1444,400.8L1446,400.6M1448,400.6L1452,401L1456,401.8L1458,402.6M1468,401L1470,399.8L1472,398.8M1480,399L1483,400.4L1486,401.8L1488,402.6" stroke="#e8f6ff" stroke-width="1.25" stroke-opacity="0.9" fill="none" stroke-linejoin="round"/>
<path d="M601,401.6H602.4M603.4,403H604.8M605.6,401H607M608,402H610M611,403.2H612.4M614,402H616M617.4,403.2H619M620.6,402H623M624,402H626M627,401.6H629.4M630.4,402.4H633M650,402.4H651.4M652.6,403.2H654M655,402.6H656.4M1042,401H1044M1045.4,401H1047.4M1074,399.4H1075.4M1076,401.4H1077.4M1153,403.6H1155M1156.6,403.4H1159M1160.4,404.2H1162M1163,403.6H1166M1251,402H1252.4M1253,401.6H1254.4M1330,404.4H1332M1333,404.4H1335M1336,404.4H1338.4M1339.4,404.2H1342M1345,402H1346.4M1347.4,401.4H1349M1350,403H1351.4M1352.6,401.8H1354M1355.4,403.2H1357M1358,402.4H1360M1382,403H1384M1385,403.2H1387M1388,403H1389.4M1392,402.6H1394M1395.4,403.2H1397.4M887,400.2H888.4M889,401.6H890.4M891,400.6H892.4M893,402.6H894.4M895,403.8H897M1458,403.6H1460M1460.6,404.4H1463" stroke="#e8f6ff" stroke-width="1.1" stroke-opacity="0.85" fill="none"/>
<path d="M57,400H104" stroke="#e8f6ff" stroke-width="1.9" stroke-opacity="0.8" fill="none"/>
<path d="M110,626.6H132M158,629H168M211,625.4H221M262,627.3H270M308,624.1H314M380,624H391M397,627H405M411,628H420M448,628H456M456,629H468M470,623.6H477M497,623.6H509M532,627.4H539M539,629H548M634,628H639M686,622.6H693M696,623.4H706M710,628.4H718M722,626.6H727M749,623H762M761,622H782M805,627H816M831,628.6H836M897,628.4H903M949,628.4H958M978,623.4H987M987,624H1000M1000,621.4H1028M1054,627.4H1060M1078,628.4H1084M1097,626.4H1106M1106,627.4H1113M1128,625.4H1134M1134,628H1148M1168,629H1178M1206,624H1219M1219,625.4H1222M1233,628.4H1240M1272,623.4H1288M1288,625H1296M1300,628.6H1306M1312,626.4H1330M1360,627.4H1371M1400,626.6H1404M1426,624.6H1432" stroke="#ecffff" stroke-width="1.3" stroke-opacity="0.9" fill="none"/>
<path d="M104,624.2L106,625L108,626.2L109.6,626.2M132,627.4L136,627.8L140,628.4L145,628L150,628.6L152,627.2L154,627.8L156,628.2L158,629M208,624L209.4,625.4L211,627M258,623L260,624.6L262,626.2M314,624.4L318,625.2L322,624.8L326,625.6L330,625M358,626.6L363,626.2L368,625.6L371,624.8L374,624.6M408,624.6L409.6,625.6L411,627M433,627L438,627L440,627.6L443,626.8L448,627.2M489,628.6L492,627.6L494,628L497,626.6M521,621.4L522.6,622.4L524,623.4L526,624.6L528,626L530,626.2L532,628M569,626L572,625L576,624L579,625L583,627M658,626L662,625L666,624.2L670,624M678,626L681,624.6L684,623L686,622.2M693,623.2L694.6,625L696,623.6M706,624L708,626.6L710,628.2M729,626L734,625.6L740,625.2L745,625L747,623.8L749,623M782,622.4L784,624L786,625.6L788,626.6M788,627L793,627.4L798,626.8L804,627M818,626.8L823,626.6L827,627.2L831,627.4M838,627.4L842,625.4L846,623.4L849,625L852,626.6L854,624.6L856,623.4L859,625.4L862,627.4L865,625.2L869,622.6L872,624.4L875,626.2L879,628M880,624.4L882,623.6L884,622.6L886,623.8M958,626L960,625.2L964,625L971,625L973,626.6L976,627L978,625M1049,625.2L1052,626L1054,627M1123,629L1125,627.6L1127,626.2L1128,625.6M1201,627.4L1203,625.8L1205,624.6L1206,624M1226,625L1229,626L1232,627.2L1233,628M1255,624.6L1259,624.2L1261,623.6L1263,624.4L1266,624.6M1296,626L1298,627.6L1300,628.4M1408,625L1411,625.6L1414,626.4L1416,626.6M1418,627L1420,625.6L1422,624.4L1424,624L1426,624.4M1432,627L1434,625.6L1436,624.4L1438,624L1440,624.4M1440,626.6L1442,625.6L1444,624.8L1446,624.6" stroke="#ecffff" stroke-width="1.25" stroke-opacity="0.9" fill="none" stroke-linejoin="round"/>
<path d="M601,625.6H602.4M603.4,627H604.8M605.6,625H607M608,626H610M611,627.2H612.4M614,626H616M617.4,627.2H619M620.6,626H623M624,626H626M627,625.6H629.4M630.4,626.4H633M650,626.4H651.4M652.6,627.2H654M655,626.6H656.4M1042,625H1044M1045.4,625H1047.4M1074,623.4H1075.4M1076,625.4H1077.4M1153,627.6H1155M1156.6,627.4H1159M1160.4,628.2H1162M1163,627.6H1166M1251,626H1252.4M1253,625.6H1254.4M1330,628.4H1332M1333,628.4H1335M1336,628.4H1338.4M1339.4,628.2H1342M1345,626H1346.4M1347.4,625.4H1349M1350,627H1351.4M1352.6,625.8H1354M1355.4,627.2H1357M1358,626.4H1360M1382,627H1384M1385,627.2H1387M1388,627H1389.4M1392,626.6H1394M1395.4,627.2H1397.4M887,624.2H888.4M889,625.6H890.4M891,624.6H892.4M893,626.6H894.4M895,627.8H897" stroke="#ecffff" stroke-width="1.1" stroke-opacity="0.85" fill="none"/>
<path d="M57,624H104" stroke="#ecffff" stroke-width="1.2" stroke-opacity="0.8" fill="none"/>
<path d="M57,456.6H784M948,456.6H1446" stroke="#ffd0e0" stroke-width="1.0" stroke-opacity="0.42" fill="none" stroke-dasharray="1.1 2.2"/>
<path d="M58.6,457.7H784M949.6,457.7H1446" stroke="#ffd0e0" stroke-width="1.0" stroke-opacity="0.42" fill="none" stroke-dasharray="1.1 2.2"/>
<path d="M160,451.8H784M1040,451.8H1446" stroke="#ffd9e6" stroke-width="1.0" stroke-opacity="0.13" fill="none" stroke-dasharray="0.9 4.6"/>
<path d="M792,451.3H822" stroke="#ffd9e6" stroke-width="1.0" stroke-opacity="0.5" fill="none"/>
<path d="M822,451.3H893" stroke="#ffd9e6" stroke-width="1.0" stroke-opacity="0.4" fill="none" stroke-dasharray="2.4 1.2"/>
<path d="M792,456.4H893" stroke="#ffd0e0" stroke-width="1.0" stroke-opacity="0.32" fill="none" stroke-dasharray="1.0 2.3"/>
<path d="M793.6,457.5H893" stroke="#ffd0e0" stroke-width="1.0" stroke-opacity="0.3" fill="none" stroke-dasharray="1.0 2.3"/>
<path d="M108,456.6h1.3v1.3h-1.3zM130,456.6h1.3v1.3h-1.3zM165,456.6h1.3v1.3h-1.3zM212,456.6h1.3v1.3h-1.3zM238,456.6h1.3v1.3h-1.3zM262,456.6h1.3v1.3h-1.3zM330,456.6h1.3v1.3h-1.3zM372,456.6h1.3v1.3h-1.3zM436,456.6h1.3v1.3h-1.3zM470,456.6h1.3v1.3h-1.3zM520,456.6h1.3v1.3h-1.3zM560,456.6h1.3v1.3h-1.3zM584,456.6h1.3v1.3h-1.3zM612,456.6h1.3v1.3h-1.3zM640,456.6h1.3v1.3h-1.3zM688,456.6h1.3v1.3h-1.3zM716,456.6h1.3v1.3h-1.3zM760,456.6h1.3v1.3h-1.3zM782,456.6h1.3v1.3h-1.3zM822,456.6h1.3v1.3h-1.3zM1046,456.6h1.3v1.3h-1.3zM1084,456.6h1.3v1.3h-1.3zM1130,456.6h1.3v1.3h-1.3zM1176,456.6h1.3v1.3h-1.3zM1208,456.6h1.3v1.3h-1.3zM1222,456.6h1.3v1.3h-1.3zM1256,456.6h1.3v1.3h-1.3zM1298,456.6h1.3v1.3h-1.3zM1340,456.6h1.3v1.3h-1.3zM1378,456.6h1.3v1.3h-1.3zM1410,456.6h1.3v1.3h-1.3zM262,451.2h1.2v1.2h-1.2zM338,451.2h1.2v1.2h-1.2zM366,451.2h1.2v1.2h-1.2zM408,451.2h1.2v1.2h-1.2zM478,451.2h1.2v1.2h-1.2zM536,451.2h1.2v1.2h-1.2zM578,451.2h1.2v1.2h-1.2zM636,451.2h1.2v1.2h-1.2zM682,451.2h1.2v1.2h-1.2zM820,451.2h1.2v1.2h-1.2zM1074,451.2h1.2v1.2h-1.2zM1207,451.2h1.2v1.2h-1.2zM1222,451.2h1.2v1.2h-1.2zM1262,451.2h1.2v1.2h-1.2zM1300,451.2h1.2v1.2h-1.2zM1336,451.2h1.2v1.2h-1.2z" fill="#ffe0ea" fill-opacity="0.62"/>
<path d="M897,502.2h1v1.4h-1zM903.6,502.2h1v1.4h-1zM910.2,502.2h1v1.4h-1zM916.8,502.2h1v1.4h-1zM923.4,502.2h1v1.4h-1zM930,502.2h1v1.4h-1zM936.6,502.2h1v1.4h-1zM943.2,502.2h1v1.4h-1z" fill="#d8ffd8" fill-opacity="0.45"/>
<path d="M913.4,501.8h2.2v2h-2.2zM929.6,501.8h2.2v2h-2.2zM943,502h1.4v1.6h-1.4zM903.4,502.2h2v1.2h-2zM908.4,502.2h1.6v1.2h-1.6zM920,502.2h1.6v1.2h-1.6zM936,502.2h1.6v1.2h-1.6z" fill="#d8ffd8" fill-opacity="0.42"/>
<path d="M899,539.6h1.1v1h-1.1zM905.6,539.6h1.1v1h-1.1zM912.2,539.6h1.1v1h-1.1zM918.8,539.6h1.1v1h-1.1zM925.4,539.6h1.1v1h-1.1zM932,539.6h1.1v1h-1.1zM938.6,539.6h1.1v1h-1.1zM945.2,539.6h1.1v1h-1.1z" fill="#ffe9b0" fill-opacity="0.4"/>
<path d="M896.8,552.3H898.2M902.6,552.3H911M916,552.3H924M929,552.3H937M941,552.3H946.6" stroke="#fff4dc" stroke-width="1.2" stroke-opacity="0.85" fill="none"/>
<path d="M890,677.8h7.2v1.1h-7.2zM890,681.2h7.2v1.1h-7.2z" fill="#ffffe0" fill-opacity="0.85"/>
<path d="M942.6,676.6h6.8v2.2h-6.8z" fill="#ffffe0" fill-opacity="0.85"/>
<path d="M374.2,583.5H376.3M376.8,584.1H378.9M379.4,584.8H381.5M384.4,585.3H386.5M387,584.7H389.1M389.6,584H391.7M426.6,583.5H428.7M429.2,584.1H431.3M431.8,584.8H433.9M436.8,585.3H438.9M439.4,584.7H441.5M442,584H444.1M583.2,583.5H585.3M585.8,584.1H587.9M588.4,584.8H590.5M593.4,585.3H595.5M596,584.7H598.1M598.6,584H600.7M635.6,583.5H637.7M638.2,584.1H640.3M640.8,584.8H642.9M645.8,585.3H647.9M648.4,584.7H650.5M651,584H653.1M1213.2,583.5H1215.3M1215.8,584.1H1217.9M1218.4,584.8H1220.5M1223.4,585.3H1225.5M1226,584.7H1228.1M1228.6,584H1230.7M1266.1,583.5H1268.2M1268.7,584.1H1270.8M1271.3,584.8H1273.4M1276.3,585.3H1278.4M1278.9,584.7H1281M1281.5,584H1283.6M1319,583.5H1321.1M1321.6,584.1H1323.7M1324.2,584.8H1326.3M1329.2,585.3H1331.3M1331.8,584.7H1333.9M1334.4,584H1336.5M1371.9,583.5H1374M1374.5,584.1H1376.6M1377.1,584.8H1379.2M1382.1,585.3H1384.2M1384.7,584.7H1386.8M1387.3,584H1389.4M1424.8,583.5H1426.9M1427.4,584.1H1429.5M1430,584.8H1432.1M1435,585.3H1437.1M1437.6,584.7H1439.7M1440.2,584H1442.3" stroke="#ffeaff" stroke-width="1.6" stroke-opacity="0.92" fill="none"/>
<path d="M392,584L394,583.2L396,582.8L404,582.8L406.5,583.5L409,584.5L411,585.1L418.4,585.1M444.4,584L446.4,583.2L448.4,582.8L456.4,582.8L458.9,583.5L461.4,584.5L463.4,585.1M601,584L603,583.2L605,582.8L613,582.8L615.5,583.5L618,584.5L620,585.1L627.4,585.1M653.4,584L655.4,583.2L657.4,582.8L665.4,582.8L667.9,583.5L670.4,584.5L672.4,585.1L679.8,585.1M1231,584L1233,583.2L1235,582.8L1243,582.8L1245.5,583.5L1248,584.5L1250,585.1L1257.4,585.1M1283.9,584L1285.9,583.2L1287.9,582.8L1295.9,582.8L1298.4,583.5L1300.9,584.5L1302.9,585.1L1310.3,585.1M1336.8,584L1338.8,583.2L1340.8,582.8L1348.8,582.8L1351.3,583.5L1353.8,584.5L1355.8,585.1L1363.2,585.1M1389.7,584L1391.7,583.2L1393.7,582.8L1401.7,582.8L1404.2,583.5L1406.7,584.5L1408.7,585.1L1416.1,585.1M1442.6,584L1444.6,583.2L1446.6,582.8" stroke="#ffeaff" stroke-width="1.7" stroke-opacity="0.94" fill="none" stroke-linejoin="round"/>
<path d="M368,582.3h6v2.5h-6zM420.4,582.3h6v2.5h-6zM577,582.3h6v2.5h-6zM629.4,582.3h6v2.5h-6zM1207,582.3h6v2.5h-6zM1259.9,582.3h6v2.5h-6zM1312.8,582.3h6v2.5h-6zM1365.7,582.3h6v2.5h-6zM1418.6,582.3h6v2.5h-6z" fill="#ffeaff" fill-opacity="0.94"/>
<path d="M685,585.4H687M689,585.8H691M693,585.4H695M697,585.9H699.4" stroke="#ffe8ff" stroke-width="1.0" stroke-opacity="0.6" fill="none"/>
<path d="M703,585.6L705,584.6L707,584.6L709,585.4" stroke="#ffe8ff" stroke-width="1.1" stroke-opacity="0.8" fill="none" stroke-linejoin="round"/>
<path d="M711,586.6H712.6M714,586H715.6M716.6,585.6H718" stroke="#ffe8ff" stroke-width="1.0" stroke-opacity="0.7" fill="none"/>
<path d="M718,586.7H732M737,588H748M772,585H783.4" stroke="#ffe8ff" stroke-width="1.5" stroke-opacity="0.9" fill="none"/>
<path d="M749,587.6H751M752.6,587.2H755M756.4,586.8H759M760,586.2H762" stroke="#ffe8ff" stroke-width="1.1" stroke-opacity="0.75" fill="none"/>
<path d="M764,586L766,585L768,584.6L770,584.8L772,585" stroke="#ffe8ff" stroke-width="1.2" stroke-opacity="0.85" fill="none" stroke-linejoin="round"/>
<rect x="1203.6" y="104.7" width="151.55" height="151.55" fill="#fde725"/>
<path d="M1209.21,110.31h39.29v5.66h-39.29zM1254.12,110.31h5.61v5.66h-5.61zM1270.96,110.31h11.23v5.66h-11.23zM1287.79,110.31h5.61v5.66h-5.61zM1310.25,110.31h39.29v5.66h-39.29zM1209.21,115.93h5.61v5.66h-5.61zM1242.89,115.93h5.61v5.66h-5.61zM1259.73,115.93h11.23v5.66h-11.23zM1282.18,115.93h11.23v5.66h-11.23zM1310.25,115.93h5.61v5.66h-5.61zM1343.92,115.93h5.61v5.66h-5.61zM1209.21,121.54h5.61v5.66h-5.61zM1220.44,121.54h16.84v5.66h-16.84zM1242.89,121.54h5.61v5.66h-5.61zM1265.34,121.54h5.61v5.66h-5.61zM1276.57,121.54h16.84v5.66h-16.84zM1310.25,121.54h5.61v5.66h-5.61zM1321.47,121.54h16.84v5.66h-16.84zM1343.92,121.54h5.61v5.66h-5.61zM1209.21,127.15h5.61v5.66h-5.61zM1220.44,127.15h16.84v5.66h-16.84zM1242.89,127.15h5.61v5.66h-5.61zM1276.57,127.15h11.23v5.66h-11.23zM1299.02,127.15h5.61v5.66h-5.61zM1310.25,127.15h5.61v5.66h-5.61zM1321.47,127.15h16.84v5.66h-16.84zM1343.92,127.15h5.61v5.66h-5.61zM1209.21,132.77h5.61v5.66h-5.61zM1220.44,132.77h16.84v5.66h-16.84zM1242.89,132.77h5.61v5.66h-5.61zM1259.73,132.77h5.61v5.66h-5.61zM1270.96,132.77h5.61v5.66h-5.61zM1282.18,132.77h11.23v5.66h-11.23zM1299.02,132.77h5.61v5.66h-5.61zM1310.25,132.77h5.61v5.66h-5.61zM1321.47,132.77h16.84v5.66h-16.84zM1343.92,132.77h5.61v5.66h-5.61zM1209.21,138.38h5.61v5.66h-5.61zM1242.89,138.38h5.61v5.66h-5.61zM1265.34,138.38h5.61v5.66h-5.61zM1276.57,138.38h5.61v5.66h-5.61zM1287.79,138.38h5.61v5.66h-5.61zM1310.25,138.38h5.61v5.66h-5.61zM1343.92,138.38h5.61v5.66h-5.61zM1209.21,143.99h39.29v5.66h-39.29zM1254.12,143.99h5.61v5.66h-5.61zM1265.34,143.99h5.61v5.66h-5.61zM1276.57,143.99h5.61v5.66h-5.61zM1287.79,143.99h5.61v5.66h-5.61zM1299.02,143.99h5.61v5.66h-5.61zM1310.25,143.99h39.29v5.66h-39.29zM1254.12,149.60h5.61v5.66h-5.61zM1265.34,149.60h11.23v5.66h-11.23zM1282.18,149.60h11.23v5.66h-11.23zM1209.21,155.22h11.23v5.66h-11.23zM1226.05,155.22h11.23v5.66h-11.23zM1242.89,155.22h5.61v5.66h-5.61zM1259.73,155.22h16.84v5.66h-16.84zM1287.79,155.22h5.61v5.66h-5.61zM1299.02,155.22h5.61v5.66h-5.61zM1310.25,155.22h5.61v5.66h-5.61zM1343.92,155.22h5.61v5.66h-5.61zM1209.21,160.83h16.84v5.66h-16.84zM1237.28,160.83h5.61v5.66h-5.61zM1259.73,160.83h5.61v5.66h-5.61zM1276.57,160.83h5.61v5.66h-5.61zM1287.79,160.83h11.23v5.66h-11.23zM1304.63,160.83h5.61v5.66h-5.61zM1315.86,160.83h28.07v5.66h-28.07zM1209.21,166.44h11.23v5.66h-11.23zM1231.66,166.44h5.61v5.66h-5.61zM1242.89,166.44h11.23v5.66h-11.23zM1265.34,166.44h11.23v5.66h-11.23zM1293.41,166.44h5.61v5.66h-5.61zM1310.25,166.44h11.23v5.66h-11.23zM1327.09,166.44h5.61v5.66h-5.61zM1343.92,166.44h5.61v5.66h-5.61zM1209.21,172.06h5.61v5.66h-5.61zM1226.05,172.06h11.23v5.66h-11.23zM1259.73,172.06h22.45v5.66h-22.45zM1287.79,172.06h5.61v5.66h-5.61zM1315.86,172.06h5.61v5.66h-5.61zM1327.09,172.06h22.45v5.66h-22.45zM1209.21,177.67h5.61v5.66h-5.61zM1226.05,177.67h5.61v5.66h-5.61zM1237.28,177.67h28.07v5.66h-28.07zM1270.96,177.67h11.23v5.66h-11.23zM1293.41,177.67h11.23v5.66h-11.23zM1310.25,177.67h5.61v5.66h-5.61zM1343.92,177.67h5.61v5.66h-5.61zM1209.21,183.28h11.23v5.66h-11.23zM1231.66,183.28h5.61v5.66h-5.61zM1254.12,183.28h11.23v5.66h-11.23zM1282.18,183.28h5.61v5.66h-5.61zM1293.41,183.28h16.84v5.66h-16.84zM1321.47,183.28h5.61v5.66h-5.61zM1338.31,183.28h5.61v5.66h-5.61zM1209.21,188.90h28.07v5.66h-28.07zM1242.89,188.90h16.84v5.66h-16.84zM1270.96,188.90h11.23v5.66h-11.23zM1293.41,188.90h5.61v5.66h-5.61zM1304.63,188.90h11.23v5.66h-11.23zM1321.47,188.90h28.07v5.66h-28.07zM1209.21,194.51h5.61v5.66h-5.61zM1220.44,194.51h5.61v5.66h-5.61zM1231.66,194.51h11.23v5.66h-11.23zM1248.50,194.51h16.84v5.66h-16.84zM1270.96,194.51h5.61v5.66h-5.61zM1299.02,194.51h11.23v5.66h-11.23zM1315.86,194.51h5.61v5.66h-5.61zM1327.09,194.51h11.23v5.66h-11.23zM1343.92,194.51h5.61v5.66h-5.61zM1209.21,200.12h5.61v5.66h-5.61zM1242.89,200.12h11.23v5.66h-11.23zM1259.73,200.12h5.61v5.66h-5.61zM1276.57,200.12h16.84v5.66h-16.84zM1299.02,200.12h28.07v5.66h-28.07zM1332.70,200.12h11.23v5.66h-11.23zM1254.12,205.73h11.23v5.66h-11.23zM1270.96,205.73h16.84v5.66h-16.84zM1299.02,205.73h5.61v5.66h-5.61zM1321.47,205.73h5.61v5.66h-5.61zM1332.70,205.73h11.23v5.66h-11.23zM1209.21,211.35h39.29v5.66h-39.29zM1270.96,211.35h5.61v5.66h-5.61zM1299.02,211.35h5.61v5.66h-5.61zM1310.25,211.35h5.61v5.66h-5.61zM1321.47,211.35h5.61v5.66h-5.61zM1343.92,211.35h5.61v5.66h-5.61zM1209.21,216.96h5.61v5.66h-5.61zM1242.89,216.96h5.61v5.66h-5.61zM1259.73,216.96h5.61v5.66h-5.61zM1282.18,216.96h22.45v5.66h-22.45zM1321.47,216.96h5.61v5.66h-5.61zM1338.31,216.96h11.23v5.66h-11.23zM1209.21,222.57h5.61v5.66h-5.61zM1220.44,222.57h16.84v5.66h-16.84zM1242.89,222.57h5.61v5.66h-5.61zM1254.12,222.57h11.23v5.66h-11.23zM1270.96,222.57h11.23v5.66h-11.23zM1287.79,222.57h39.29v5.66h-39.29zM1209.21,228.19h5.61v5.66h-5.61zM1220.44,228.19h16.84v5.66h-16.84zM1242.89,228.19h5.61v5.66h-5.61zM1254.12,228.19h22.45v5.66h-22.45zM1287.79,228.19h16.84v5.66h-16.84zM1310.25,228.19h5.61v5.66h-5.61zM1338.31,228.19h11.23v5.66h-11.23zM1209.21,233.80h5.61v5.66h-5.61zM1220.44,233.80h16.84v5.66h-16.84zM1242.89,233.80h5.61v5.66h-5.61zM1270.96,233.80h5.61v5.66h-5.61zM1282.18,233.80h11.23v5.66h-11.23zM1299.02,233.80h11.23v5.66h-11.23zM1321.47,233.80h28.07v5.66h-28.07zM1209.21,239.41h5.61v5.66h-5.61zM1242.89,239.41h5.61v5.66h-5.61zM1254.12,239.41h11.23v5.66h-11.23zM1287.79,239.41h5.61v5.66h-5.61zM1315.86,239.41h11.23v5.66h-11.23zM1332.70,239.41h16.84v5.66h-16.84zM1209.21,245.03h39.29v5.66h-39.29zM1254.12,245.03h16.84v5.66h-16.84zM1276.57,245.03h5.61v5.66h-5.61zM1299.02,245.03h11.23v5.66h-11.23zM1327.09,245.03h5.61v5.66h-5.61zM1343.92,245.03h5.61v5.66h-5.61z" fill="#440154" shape-rendering="crispEdges"/>
</svg>
<div class="lbl" style="left:60.57px;top:10.61px;transform:scaleX(1.0937)">GrandPno</div>
<div class="lbl" style="left:60.81px;top:55.41px;transform:scaleX(1.1261)">Fretless</div>
<div class="lbl" style="left:60.57px;top:100.21px;transform:scaleX(1.0937)">GrandPno</div>
<div class="lbl" style="left:60.81px;top:145.01px;transform:scaleX(1.1268)">PanFlute</div>
<div class="lbl" style="left:60.84px;top:189.81px;transform:scaleX(1.1081)">Pizzicto</div>
<div class="lbl" style="left:61.43px;top:234.61px;transform:scaleX(1.1097)">SynStrg1</div>
<div class="lbl" style="left:60.85px;top:279.41px;transform:scaleX(1.1006)">Harpsich</div>
<div class="lbl" style="left:60.87px;top:324.21px;transform:scaleX(1.0918)">Ensmble1</div>
<div class="lbl" style="left:61.45px;top:369.01px;transform:scaleX(1.0865)">SprnoSax</div>
<div class="lbl" style="left:60.56px;top:413.81px;transform:scaleX(1.0995)">GM Drums</div>
<div class="lbl" style="left:60.56px;top:458.61px;transform:scaleX(1.0995)">GM Drums</div>
<div class="lbl" style="left:61.44px;top:503.41px;transform:scaleX(1.0992)">SynthTom</div>
<div class="lbl" style="left:61.45px;top:548.21px;transform:scaleX(1.0779)">SynChoir</div>
<div class="lbl" style="left:60.87px;top:593.01px;transform:scaleX(1.0929)">EnglHorn</div>
<div class="lbl" style="left:60.88px;top:637.81px;transform:scaleX(1.0848)">RevCymbl</div>
<div class="tick" style="left:13.43px;transform:scaleX(1.0070)">0.0s</div>
<div class="tick" style="left:286.24px;transform:scaleX(1.0125)">50.0s</div>
<div class="tick" style="left:558.74px;transform:scaleX(1.0214)">100.0s</div>
<div class="tick" style="left:836.88px;transform:scaleX(1.0214)">150.0s</div>
<div class="tick" style="left:1114.88px;transform:scaleX(1.0239)">200.0s</div>
<div class="tick" style="left:1393.02px;transform:scaleX(1.0239)">250.0s</div>
<div id="copy">© www.midifiles.com</div>
<svg id="bar" width="306" height="32" viewBox="597 709 306 32">
<rect x="598.8" y="710.8" width="302.6" height="29.2" fill="#272727"/>
<rect x="608.9" y="712.9" width="52" height="24.2" rx="2.6" fill="#131313" stroke="#020202" stroke-width="1.5"/>
<rect x="669.9" y="712.9" width="51.4" height="24.2" rx="2.6" fill="#131313" stroke="#020202" stroke-width="1.5"/>
<g fill="#fff">
<path transform="translate(609,725.4)" d="M0,-1.7L4,-1.7Q7.3,-3.1 11,-6.7L12.9,-4.6L11.1,-2.3L13.3,0L11.1,2.3L12.9,4.6L11,6.7Q7.3,3.1 4,1.7L0,1.7Z"/>
<path transform="translate(624.2,725.4)" d="M0,-1.7L4,-1.7Q7.3,-3.1 11,-6.7L12.9,-4.6L11.1,-2.3L13.3,0L11.1,2.3L12.9,4.6L11,6.7Q7.3,3.1 4,1.7L0,1.7Z"/>
<path transform="translate(691.4,725.4) scale(-1,1)" d="M0,-1.7L4,-1.7Q7.3,-3.1 11,-6.7L12.9,-4.6L11.1,-2.3L13.3,0L11.1,2.3L12.9,4.6L11,6.7Q7.3,3.1 4,1.7L0,1.7Z"/>
<path transform="translate(707.2,725.4) scale(-1,1)" d="M0,-1.7L4,-1.7Q7.3,-3.1 11,-6.7L12.9,-4.6L11.1,-2.3L13.3,0L11.1,2.3L12.9,4.6L11,6.7Q7.3,3.1 4,1.7L0,1.7Z"/>
</g>
<rect x="731.6" y="713.4" width="48.8" height="23.4" fill="#383838"/>
<rect x="744.3" y="719" width="23.7" height="12.6" fill="#8c8c8c"/>
<rect x="791.8" y="711.4" width="50" height="26.2" fill="#235a23"/>
<path d="M809.5,718.5L838,725.3L809.5,732.5Z" fill="#62cc62"/>
<rect x="852" y="711.4" width="48.9" height="28" fill="#4a2727"/>
<ellipse cx="877" cy="725.5" rx="11.8" ry="6.4" fill="#e23232"/>
</svg>
</body></html>
